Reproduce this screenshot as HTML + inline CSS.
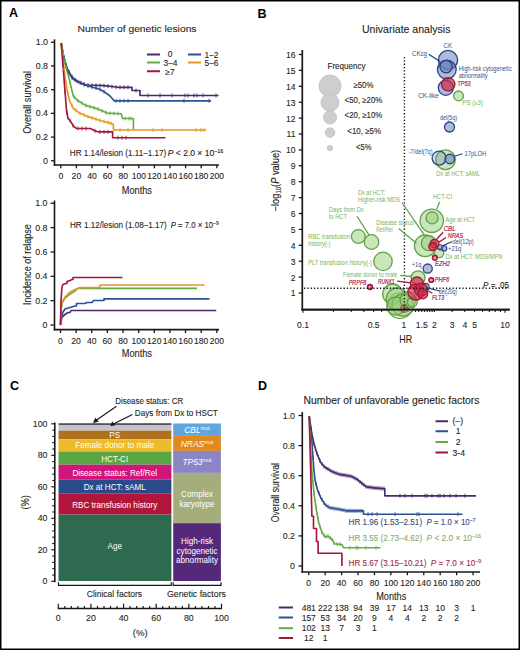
<!DOCTYPE html>
<html><head><meta charset="utf-8"><style>
html,body{margin:0;padding:0;background:#fff;}
svg{display:block;}
svg text{font-family:"Liberation Sans", sans-serif;}
</style></head><body>
<svg width="520" height="650" viewBox="0 0 520 650">
<rect x="0" y="0" width="520" height="650" fill="#fff"/>
<text x="9.00" y="17.30" font-size="12.5" fill="#000" font-weight="bold" >A</text>
<text x="77.50" y="32.20" font-size="9.9" fill="#231f20" stroke="#231f20" stroke-width="0.1" textLength="119.00" lengthAdjust="spacingAndGlyphs" >Number of genetic lesions</text>
<line x1="54.50" y1="39.30" x2="54.50" y2="165.80" stroke="#1a1718" stroke-width="1.6" />
<line x1="53.70" y1="165.00" x2="219.00" y2="165.00" stroke="#1a1718" stroke-width="1.6" />
<line x1="51.00" y1="160.80" x2="54.50" y2="160.80" stroke="#1a1718" stroke-width="1.3" />
<text x="48.00" y="163.90" font-size="8.8" fill="#231f20" stroke="#231f20" stroke-width="0.1" text-anchor="end" >0</text>
<line x1="51.00" y1="137.08" x2="54.50" y2="137.08" stroke="#1a1718" stroke-width="1.3" />
<text x="48.00" y="140.18" font-size="8.8" fill="#231f20" stroke="#231f20" stroke-width="0.1" text-anchor="end" >0.2</text>
<line x1="51.00" y1="113.36" x2="54.50" y2="113.36" stroke="#1a1718" stroke-width="1.3" />
<text x="48.00" y="116.46" font-size="8.8" fill="#231f20" stroke="#231f20" stroke-width="0.1" text-anchor="end" >0.4</text>
<line x1="51.00" y1="89.64" x2="54.50" y2="89.64" stroke="#1a1718" stroke-width="1.3" />
<text x="48.00" y="92.74" font-size="8.8" fill="#231f20" stroke="#231f20" stroke-width="0.1" text-anchor="end" >0.6</text>
<line x1="51.00" y1="65.92" x2="54.50" y2="65.92" stroke="#1a1718" stroke-width="1.3" />
<text x="48.00" y="69.02" font-size="8.8" fill="#231f20" stroke="#231f20" stroke-width="0.1" text-anchor="end" >0.8</text>
<line x1="51.00" y1="42.20" x2="54.50" y2="42.20" stroke="#1a1718" stroke-width="1.3" />
<text x="48.00" y="45.30" font-size="8.8" fill="#231f20" stroke="#231f20" stroke-width="0.1" text-anchor="end" >1.0</text>
<line x1="60.80" y1="165.00" x2="60.80" y2="168.30" stroke="#1a1718" stroke-width="1.3" />
<text x="60.80" y="178.80" font-size="8.6" fill="#231f20" stroke="#231f20" stroke-width="0.1" text-anchor="middle" >0</text>
<line x1="76.40" y1="165.00" x2="76.40" y2="168.30" stroke="#1a1718" stroke-width="1.3" />
<text x="76.40" y="178.80" font-size="8.6" fill="#231f20" stroke="#231f20" stroke-width="0.1" text-anchor="middle" >20</text>
<line x1="92.00" y1="165.00" x2="92.00" y2="168.30" stroke="#1a1718" stroke-width="1.3" />
<text x="92.00" y="178.80" font-size="8.6" fill="#231f20" stroke="#231f20" stroke-width="0.1" text-anchor="middle" >40</text>
<line x1="107.60" y1="165.00" x2="107.60" y2="168.30" stroke="#1a1718" stroke-width="1.3" />
<text x="107.60" y="178.80" font-size="8.6" fill="#231f20" stroke="#231f20" stroke-width="0.1" text-anchor="middle" >60</text>
<line x1="123.20" y1="165.00" x2="123.20" y2="168.30" stroke="#1a1718" stroke-width="1.3" />
<text x="123.20" y="178.80" font-size="8.6" fill="#231f20" stroke="#231f20" stroke-width="0.1" text-anchor="middle" >80</text>
<line x1="138.80" y1="165.00" x2="138.80" y2="168.30" stroke="#1a1718" stroke-width="1.3" />
<text x="138.80" y="178.80" font-size="8.6" fill="#231f20" stroke="#231f20" stroke-width="0.1" text-anchor="middle" >100</text>
<line x1="154.40" y1="165.00" x2="154.40" y2="168.30" stroke="#1a1718" stroke-width="1.3" />
<text x="154.40" y="178.80" font-size="8.6" fill="#231f20" stroke="#231f20" stroke-width="0.1" text-anchor="middle" >120</text>
<line x1="170.00" y1="165.00" x2="170.00" y2="168.30" stroke="#1a1718" stroke-width="1.3" />
<text x="170.00" y="178.80" font-size="8.6" fill="#231f20" stroke="#231f20" stroke-width="0.1" text-anchor="middle" >140</text>
<line x1="185.60" y1="165.00" x2="185.60" y2="168.30" stroke="#1a1718" stroke-width="1.3" />
<text x="185.60" y="178.80" font-size="8.6" fill="#231f20" stroke="#231f20" stroke-width="0.1" text-anchor="middle" >160</text>
<line x1="201.20" y1="165.00" x2="201.20" y2="168.30" stroke="#1a1718" stroke-width="1.3" />
<text x="201.20" y="178.80" font-size="8.6" fill="#231f20" stroke="#231f20" stroke-width="0.1" text-anchor="middle" >180</text>
<line x1="216.80" y1="165.00" x2="216.80" y2="168.30" stroke="#1a1718" stroke-width="1.3" />
<text x="216.80" y="178.80" font-size="8.6" fill="#231f20" stroke="#231f20" stroke-width="0.1" text-anchor="middle" >200</text>
<text x="121.70" y="193.50" font-size="10" fill="#231f20" stroke="#231f20" stroke-width="0.1" textLength="30.30" lengthAdjust="spacingAndGlyphs" >Months</text>
<text x="31.00" y="102.40" font-size="10.6" fill="#231f20" stroke="#231f20" stroke-width="0.1" text-anchor="middle" textLength="62.80" lengthAdjust="spacingAndGlyphs" transform="rotate(-90 31.00 102.40)" >Overall survival</text>
<text x="69.80" y="156.30" font-size="8.7" fill="#231f20" stroke="#231f20" stroke-width="0.1" textLength="96.40" lengthAdjust="spacingAndGlyphs" >HR 1.14/lesion (1.11–1.17)</text>
<text x="167.8" y="156.3" font-size="8.6" fill="#1a1718" stroke="#1a1718" stroke-width="0.1" textLength="55.6" lengthAdjust="spacingAndGlyphs"><tspan font-style="italic">P</tspan> &lt; 2.0 × 10<tspan font-size="5.5" dy="-3.5">−16</tspan></text>
<line x1="147.00" y1="54.50" x2="160.00" y2="54.50" stroke="#4a2a6c" stroke-width="2" />
<text x="170.00" y="56.90" font-size="8.4" fill="#231f20" stroke="#231f20" stroke-width="0.1" text-anchor="middle" >0</text>
<line x1="188.00" y1="54.50" x2="201.00" y2="54.50" stroke="#2c5190" stroke-width="2" />
<text x="204.50" y="57.50" font-size="8.4" fill="#231f20" stroke="#231f20" stroke-width="0.1" >1–2</text>
<line x1="147.00" y1="62.50" x2="160.00" y2="62.50" stroke="#67ab45" stroke-width="2" />
<text x="163.50" y="65.50" font-size="8.4" fill="#231f20" stroke="#231f20" stroke-width="0.1" >3–4</text>
<line x1="188.00" y1="62.50" x2="201.00" y2="62.50" stroke="#e49a25" stroke-width="2" />
<text x="204.50" y="65.50" font-size="8.4" fill="#231f20" stroke="#231f20" stroke-width="0.1" >5–6</text>
<line x1="147.00" y1="71.25" x2="160.00" y2="71.25" stroke="#a5163d" stroke-width="2" />
<text x="170.00" y="74.85" font-size="8.4" fill="#231f20" stroke="#231f20" stroke-width="0.1" text-anchor="middle" >≥7</text>
<polyline points="61.20,43.00 63.00,53.00 65.00,62.00 67.20,68.80 71.30,75.80 74.00,79.00 77.60,81.50 82.00,83.50 86.80,85.00 104.00,85.60 118.00,87.30 132.00,87.30 132.00,90.50 140.00,90.50 140.00,95.50 218.50,95.50" fill="none" stroke="#4a2a6c" stroke-width="1.65" stroke-linejoin="round" />
<polyline points="61.20,43.00 63.00,54.00 65.00,62.00 67.20,69.00 70.00,75.00 73.00,79.00 77.60,81.50 85.00,85.00 92.60,87.30 98.00,88.60 101.00,90.00 105.00,92.30 110.00,96.00 114.20,100.80 211.00,100.80" fill="none" stroke="#2c5190" stroke-width="1.65" stroke-linejoin="round" />
<polyline points="61.20,43.00 64.90,63.00 69.50,80.40 71.80,90.00 73.40,96.20 78.00,100.80 85.70,105.40 96.50,108.50 107.20,113.10 121.10,113.80 122.60,118.50 133.40,118.50 133.40,129.50" fill="none" stroke="#67ab45" stroke-width="1.65" stroke-linejoin="round" />
<polyline points="61.20,43.00 63.50,65.00 65.50,80.00 67.20,90.00 69.50,100.80 73.40,108.50 79.50,113.10 88.80,116.90 101.00,120.80 110.30,123.10 113.40,124.60 113.40,130.00 206.50,130.00" fill="none" stroke="#e49a25" stroke-width="1.65" stroke-linejoin="round" />
<polyline points="61.20,43.00 63.50,72.00 64.90,90.00 66.50,110.00 68.00,118.50 70.30,120.80 73.40,126.20 76.50,128.50 90.30,128.50 94.90,130.80 98.00,131.80 112.60,131.80 112.60,137.70 165.50,137.70" fill="none" stroke="#a5163d" stroke-width="1.65" stroke-linejoin="round" />
<line x1="66.00" y1="63.09" x2="66.00" y2="67.09" stroke="#4a2a6c" stroke-width="0.9" />
<line x1="69.00" y1="69.87" x2="69.00" y2="73.87" stroke="#4a2a6c" stroke-width="0.9" />
<line x1="72.00" y1="74.63" x2="72.00" y2="78.63" stroke="#4a2a6c" stroke-width="0.9" />
<line x1="75.00" y1="77.69" x2="75.00" y2="81.69" stroke="#4a2a6c" stroke-width="0.9" />
<line x1="78.00" y1="79.68" x2="78.00" y2="83.68" stroke="#4a2a6c" stroke-width="0.9" />
<line x1="81.00" y1="81.05" x2="81.00" y2="85.05" stroke="#4a2a6c" stroke-width="0.9" />
<line x1="84.00" y1="82.12" x2="84.00" y2="86.12" stroke="#4a2a6c" stroke-width="0.9" />
<line x1="88.00" y1="83.04" x2="88.00" y2="87.04" stroke="#4a2a6c" stroke-width="0.9" />
<line x1="92.00" y1="83.18" x2="92.00" y2="87.18" stroke="#4a2a6c" stroke-width="0.9" />
<line x1="96.00" y1="83.32" x2="96.00" y2="87.32" stroke="#4a2a6c" stroke-width="0.9" />
<line x1="100.00" y1="83.46" x2="100.00" y2="87.46" stroke="#4a2a6c" stroke-width="0.9" />
<line x1="104.00" y1="83.60" x2="104.00" y2="87.60" stroke="#4a2a6c" stroke-width="0.9" />
<line x1="108.00" y1="84.09" x2="108.00" y2="88.09" stroke="#4a2a6c" stroke-width="0.9" />
<line x1="112.00" y1="84.57" x2="112.00" y2="88.57" stroke="#4a2a6c" stroke-width="0.9" />
<line x1="116.00" y1="85.06" x2="116.00" y2="89.06" stroke="#4a2a6c" stroke-width="0.9" />
<line x1="120.00" y1="85.30" x2="120.00" y2="89.30" stroke="#4a2a6c" stroke-width="0.9" />
<line x1="124.00" y1="85.30" x2="124.00" y2="89.30" stroke="#4a2a6c" stroke-width="0.9" />
<line x1="128.00" y1="85.30" x2="128.00" y2="89.30" stroke="#4a2a6c" stroke-width="0.9" />
<line x1="136.00" y1="88.50" x2="136.00" y2="92.50" stroke="#4a2a6c" stroke-width="0.9" />
<line x1="148.00" y1="93.50" x2="148.00" y2="97.50" stroke="#4a2a6c" stroke-width="0.9" />
<line x1="160.00" y1="93.50" x2="160.00" y2="97.50" stroke="#4a2a6c" stroke-width="0.9" />
<line x1="172.00" y1="93.50" x2="172.00" y2="97.50" stroke="#4a2a6c" stroke-width="0.9" />
<line x1="185.00" y1="93.50" x2="185.00" y2="97.50" stroke="#4a2a6c" stroke-width="0.9" />
<line x1="188.00" y1="93.50" x2="188.00" y2="97.50" stroke="#4a2a6c" stroke-width="0.9" />
<line x1="194.00" y1="93.50" x2="194.00" y2="97.50" stroke="#4a2a6c" stroke-width="0.9" />
<line x1="197.00" y1="93.50" x2="197.00" y2="97.50" stroke="#4a2a6c" stroke-width="0.9" />
<line x1="203.00" y1="93.50" x2="203.00" y2="97.50" stroke="#4a2a6c" stroke-width="0.9" />
<line x1="216.00" y1="93.50" x2="216.00" y2="97.50" stroke="#4a2a6c" stroke-width="0.9" />
<line x1="64.00" y1="56.00" x2="64.00" y2="60.00" stroke="#2c5190" stroke-width="0.9" />
<line x1="68.00" y1="68.71" x2="68.00" y2="72.71" stroke="#2c5190" stroke-width="0.9" />
<line x1="72.00" y1="75.67" x2="72.00" y2="79.67" stroke="#2c5190" stroke-width="0.9" />
<line x1="76.00" y1="78.63" x2="76.00" y2="82.63" stroke="#2c5190" stroke-width="0.9" />
<line x1="80.00" y1="80.64" x2="80.00" y2="84.64" stroke="#2c5190" stroke-width="0.9" />
<line x1="84.00" y1="82.53" x2="84.00" y2="86.53" stroke="#2c5190" stroke-width="0.9" />
<line x1="88.00" y1="83.91" x2="88.00" y2="87.91" stroke="#2c5190" stroke-width="0.9" />
<line x1="92.00" y1="85.12" x2="92.00" y2="89.12" stroke="#2c5190" stroke-width="0.9" />
<line x1="96.00" y1="86.12" x2="96.00" y2="90.12" stroke="#2c5190" stroke-width="0.9" />
<line x1="100.00" y1="87.53" x2="100.00" y2="91.53" stroke="#2c5190" stroke-width="0.9" />
<line x1="104.00" y1="89.72" x2="104.00" y2="93.72" stroke="#2c5190" stroke-width="0.9" />
<line x1="116.00" y1="98.80" x2="116.00" y2="102.80" stroke="#2c5190" stroke-width="0.9" />
<line x1="120.00" y1="98.80" x2="120.00" y2="102.80" stroke="#2c5190" stroke-width="0.9" />
<line x1="124.00" y1="98.80" x2="124.00" y2="102.80" stroke="#2c5190" stroke-width="0.9" />
<line x1="128.00" y1="98.80" x2="128.00" y2="102.80" stroke="#2c5190" stroke-width="0.9" />
<line x1="184.00" y1="98.80" x2="184.00" y2="102.80" stroke="#2c5190" stroke-width="0.9" />
<line x1="209.00" y1="98.80" x2="209.00" y2="102.80" stroke="#2c5190" stroke-width="0.9" />
<line x1="63.00" y1="50.73" x2="63.00" y2="54.73" stroke="#67ab45" stroke-width="0.9" />
<line x1="66.00" y1="65.16" x2="66.00" y2="69.16" stroke="#67ab45" stroke-width="0.9" />
<line x1="70.00" y1="80.49" x2="70.00" y2="84.49" stroke="#67ab45" stroke-width="0.9" />
<line x1="74.00" y1="94.80" x2="74.00" y2="98.80" stroke="#67ab45" stroke-width="0.9" />
<line x1="78.00" y1="98.80" x2="78.00" y2="102.80" stroke="#67ab45" stroke-width="0.9" />
<line x1="82.00" y1="101.19" x2="82.00" y2="105.19" stroke="#67ab45" stroke-width="0.9" />
<line x1="86.00" y1="103.49" x2="86.00" y2="107.49" stroke="#67ab45" stroke-width="0.9" />
<line x1="90.00" y1="104.63" x2="90.00" y2="108.63" stroke="#67ab45" stroke-width="0.9" />
<line x1="94.00" y1="105.78" x2="94.00" y2="109.78" stroke="#67ab45" stroke-width="0.9" />
<line x1="98.00" y1="107.14" x2="98.00" y2="111.14" stroke="#67ab45" stroke-width="0.9" />
<line x1="102.00" y1="108.86" x2="102.00" y2="112.86" stroke="#67ab45" stroke-width="0.9" />
<line x1="106.00" y1="110.58" x2="106.00" y2="114.58" stroke="#67ab45" stroke-width="0.9" />
<line x1="110.00" y1="111.24" x2="110.00" y2="115.24" stroke="#67ab45" stroke-width="0.9" />
<line x1="114.00" y1="111.44" x2="114.00" y2="115.44" stroke="#67ab45" stroke-width="0.9" />
<line x1="118.00" y1="111.64" x2="118.00" y2="115.64" stroke="#67ab45" stroke-width="0.9" />
<line x1="125.00" y1="116.50" x2="125.00" y2="120.50" stroke="#67ab45" stroke-width="0.9" />
<line x1="129.00" y1="116.50" x2="129.00" y2="120.50" stroke="#67ab45" stroke-width="0.9" />
<line x1="131.00" y1="116.50" x2="131.00" y2="120.50" stroke="#67ab45" stroke-width="0.9" />
<line x1="64.00" y1="66.75" x2="64.00" y2="70.75" stroke="#e49a25" stroke-width="0.9" />
<line x1="68.00" y1="91.76" x2="68.00" y2="95.76" stroke="#e49a25" stroke-width="0.9" />
<line x1="72.00" y1="103.74" x2="72.00" y2="107.74" stroke="#e49a25" stroke-width="0.9" />
<line x1="76.00" y1="108.46" x2="76.00" y2="112.46" stroke="#e49a25" stroke-width="0.9" />
<line x1="80.00" y1="111.30" x2="80.00" y2="115.30" stroke="#e49a25" stroke-width="0.9" />
<line x1="84.00" y1="112.94" x2="84.00" y2="116.94" stroke="#e49a25" stroke-width="0.9" />
<line x1="88.00" y1="114.57" x2="88.00" y2="118.57" stroke="#e49a25" stroke-width="0.9" />
<line x1="92.00" y1="115.92" x2="92.00" y2="119.92" stroke="#e49a25" stroke-width="0.9" />
<line x1="96.00" y1="117.20" x2="96.00" y2="121.20" stroke="#e49a25" stroke-width="0.9" />
<line x1="100.00" y1="118.48" x2="100.00" y2="122.48" stroke="#e49a25" stroke-width="0.9" />
<line x1="104.00" y1="119.54" x2="104.00" y2="123.54" stroke="#e49a25" stroke-width="0.9" />
<line x1="108.00" y1="120.53" x2="108.00" y2="124.53" stroke="#e49a25" stroke-width="0.9" />
<line x1="111.00" y1="121.44" x2="111.00" y2="125.44" stroke="#e49a25" stroke-width="0.9" />
<line x1="120.00" y1="128.00" x2="120.00" y2="132.00" stroke="#e49a25" stroke-width="0.9" />
<line x1="128.00" y1="128.00" x2="128.00" y2="132.00" stroke="#e49a25" stroke-width="0.9" />
<line x1="153.00" y1="128.00" x2="153.00" y2="132.00" stroke="#e49a25" stroke-width="0.9" />
<line x1="162.00" y1="128.00" x2="162.00" y2="132.00" stroke="#e49a25" stroke-width="0.9" />
<line x1="196.00" y1="128.00" x2="196.00" y2="132.00" stroke="#e49a25" stroke-width="0.9" />
<line x1="201.00" y1="128.00" x2="201.00" y2="132.00" stroke="#e49a25" stroke-width="0.9" />
<line x1="204.00" y1="128.00" x2="204.00" y2="132.00" stroke="#e49a25" stroke-width="0.9" />
<line x1="63.00" y1="63.70" x2="63.00" y2="67.70" stroke="#a5163d" stroke-width="0.9" />
<line x1="65.00" y1="89.25" x2="65.00" y2="93.25" stroke="#a5163d" stroke-width="0.9" />
<line x1="67.00" y1="110.83" x2="67.00" y2="114.83" stroke="#a5163d" stroke-width="0.9" />
<line x1="70.00" y1="118.50" x2="70.00" y2="122.50" stroke="#a5163d" stroke-width="0.9" />
<line x1="73.00" y1="123.50" x2="73.00" y2="127.50" stroke="#a5163d" stroke-width="0.9" />
<line x1="78.00" y1="126.50" x2="78.00" y2="130.50" stroke="#a5163d" stroke-width="0.9" />
<line x1="82.00" y1="126.50" x2="82.00" y2="130.50" stroke="#a5163d" stroke-width="0.9" />
<line x1="86.00" y1="126.50" x2="86.00" y2="130.50" stroke="#a5163d" stroke-width="0.9" />
<line x1="95.00" y1="128.83" x2="95.00" y2="132.83" stroke="#a5163d" stroke-width="0.9" />
<line x1="100.00" y1="129.80" x2="100.00" y2="133.80" stroke="#a5163d" stroke-width="0.9" />
<line x1="104.00" y1="129.80" x2="104.00" y2="133.80" stroke="#a5163d" stroke-width="0.9" />
<line x1="108.00" y1="129.80" x2="108.00" y2="133.80" stroke="#a5163d" stroke-width="0.9" />
<line x1="118.00" y1="135.70" x2="118.00" y2="139.70" stroke="#a5163d" stroke-width="0.9" />
<line x1="122.00" y1="135.70" x2="122.00" y2="139.70" stroke="#a5163d" stroke-width="0.9" />
<line x1="126.00" y1="135.70" x2="126.00" y2="139.70" stroke="#a5163d" stroke-width="0.9" />
<line x1="54.50" y1="200.50" x2="54.50" y2="330.40" stroke="#1a1718" stroke-width="1.6" />
<line x1="53.70" y1="329.60" x2="219.00" y2="329.60" stroke="#1a1718" stroke-width="1.6" />
<line x1="50.50" y1="325.00" x2="54.50" y2="325.00" stroke="#1a1718" stroke-width="1.3" />
<text x="47.50" y="328.10" font-size="8.8" fill="#231f20" stroke="#231f20" stroke-width="0.1" text-anchor="end" >0</text>
<line x1="50.50" y1="300.65" x2="54.50" y2="300.65" stroke="#1a1718" stroke-width="1.3" />
<text x="47.50" y="303.75" font-size="8.8" fill="#231f20" stroke="#231f20" stroke-width="0.1" text-anchor="end" >0.2</text>
<line x1="50.50" y1="276.30" x2="54.50" y2="276.30" stroke="#1a1718" stroke-width="1.3" />
<text x="47.50" y="279.40" font-size="8.8" fill="#231f20" stroke="#231f20" stroke-width="0.1" text-anchor="end" >0.4</text>
<line x1="50.50" y1="251.95" x2="54.50" y2="251.95" stroke="#1a1718" stroke-width="1.3" />
<text x="47.50" y="255.05" font-size="8.8" fill="#231f20" stroke="#231f20" stroke-width="0.1" text-anchor="end" >0.6</text>
<line x1="50.50" y1="227.60" x2="54.50" y2="227.60" stroke="#1a1718" stroke-width="1.3" />
<text x="47.50" y="230.70" font-size="8.8" fill="#231f20" stroke="#231f20" stroke-width="0.1" text-anchor="end" >0.8</text>
<line x1="50.50" y1="203.25" x2="54.50" y2="203.25" stroke="#1a1718" stroke-width="1.3" />
<text x="47.50" y="206.35" font-size="8.8" fill="#231f20" stroke="#231f20" stroke-width="0.1" text-anchor="end" >1.0</text>
<line x1="60.50" y1="329.60" x2="60.50" y2="333.00" stroke="#1a1718" stroke-width="1.3" />
<text x="60.50" y="343.60" font-size="8.6" fill="#231f20" stroke="#231f20" stroke-width="0.1" text-anchor="middle" >0</text>
<line x1="76.13" y1="329.60" x2="76.13" y2="333.00" stroke="#1a1718" stroke-width="1.3" />
<text x="76.13" y="343.60" font-size="8.6" fill="#231f20" stroke="#231f20" stroke-width="0.1" text-anchor="middle" >20</text>
<line x1="91.76" y1="329.60" x2="91.76" y2="333.00" stroke="#1a1718" stroke-width="1.3" />
<text x="91.76" y="343.60" font-size="8.6" fill="#231f20" stroke="#231f20" stroke-width="0.1" text-anchor="middle" >40</text>
<line x1="107.39" y1="329.60" x2="107.39" y2="333.00" stroke="#1a1718" stroke-width="1.3" />
<text x="107.39" y="343.60" font-size="8.6" fill="#231f20" stroke="#231f20" stroke-width="0.1" text-anchor="middle" >60</text>
<line x1="123.02" y1="329.60" x2="123.02" y2="333.00" stroke="#1a1718" stroke-width="1.3" />
<text x="123.02" y="343.60" font-size="8.6" fill="#231f20" stroke="#231f20" stroke-width="0.1" text-anchor="middle" >80</text>
<line x1="138.65" y1="329.60" x2="138.65" y2="333.00" stroke="#1a1718" stroke-width="1.3" />
<text x="138.65" y="343.60" font-size="8.6" fill="#231f20" stroke="#231f20" stroke-width="0.1" text-anchor="middle" >100</text>
<line x1="154.28" y1="329.60" x2="154.28" y2="333.00" stroke="#1a1718" stroke-width="1.3" />
<text x="154.28" y="343.60" font-size="8.6" fill="#231f20" stroke="#231f20" stroke-width="0.1" text-anchor="middle" >120</text>
<line x1="169.91" y1="329.60" x2="169.91" y2="333.00" stroke="#1a1718" stroke-width="1.3" />
<text x="169.91" y="343.60" font-size="8.6" fill="#231f20" stroke="#231f20" stroke-width="0.1" text-anchor="middle" >140</text>
<line x1="185.54" y1="329.60" x2="185.54" y2="333.00" stroke="#1a1718" stroke-width="1.3" />
<text x="185.54" y="343.60" font-size="8.6" fill="#231f20" stroke="#231f20" stroke-width="0.1" text-anchor="middle" >160</text>
<line x1="201.17" y1="329.60" x2="201.17" y2="333.00" stroke="#1a1718" stroke-width="1.3" />
<text x="201.17" y="343.60" font-size="8.6" fill="#231f20" stroke="#231f20" stroke-width="0.1" text-anchor="middle" >180</text>
<line x1="216.80" y1="329.60" x2="216.80" y2="333.00" stroke="#1a1718" stroke-width="1.3" />
<text x="216.80" y="343.60" font-size="8.6" fill="#231f20" stroke="#231f20" stroke-width="0.1" text-anchor="middle" >200</text>
<text x="121.70" y="357.30" font-size="10" fill="#231f20" stroke="#231f20" stroke-width="0.1" textLength="30.30" lengthAdjust="spacingAndGlyphs" >Months</text>
<text x="31.20" y="264.60" font-size="10.6" fill="#231f20" stroke="#231f20" stroke-width="0.1" text-anchor="middle" textLength="80.80" lengthAdjust="spacingAndGlyphs" transform="rotate(-90 31.20 264.60)" >Incidence of relapse</text>
<text x="70.00" y="228.20" font-size="8.7" fill="#231f20" stroke="#231f20" stroke-width="0.1" textLength="96.80" lengthAdjust="spacingAndGlyphs" >HR 1.12/lesion (1.08–1.17)</text>
<text x="170.75" y="228.2" font-size="8.6" fill="#1a1718" stroke="#1a1718" stroke-width="0.1" textLength="48" lengthAdjust="spacingAndGlyphs"><tspan font-style="italic">P</tspan> = 7.0 × 10<tspan font-size="5.5" dy="-3.5">−9</tspan></text>
<polyline points="60.50,325.00 62.00,317.00 65.00,314.50 68.00,312.50 70.00,312.50 71.00,310.50 216.30,310.50" fill="none" stroke="#4a2a6c" stroke-width="1.65" stroke-linejoin="round" />
<polyline points="60.50,325.00 61.00,318.00 63.00,312.00 65.00,309.00 70.00,307.50 75.00,306.00 76.50,306.00 76.50,303.50 85.00,303.50 87.00,302.50 92.00,302.50 93.50,300.50 104.00,300.50 104.00,298.80 209.50,298.80" fill="none" stroke="#2c5190" stroke-width="1.65" stroke-linejoin="round" />
<polyline points="60.50,325.00 61.00,310.00 62.00,303.00 65.00,298.00 70.00,294.00 75.00,291.00 78.00,288.30 197.00,288.30" fill="none" stroke="#67ab45" stroke-width="1.65" stroke-linejoin="round" />
<polyline points="60.50,325.00 61.00,310.00 62.00,302.50 65.00,297.00 70.00,292.00 75.00,289.50 80.00,287.50 100.00,287.50 100.00,285.00 204.50,285.00" fill="none" stroke="#e49a25" stroke-width="1.65" stroke-linejoin="round" />
<polyline points="60.50,325.00 61.00,300.00 62.00,287.00 63.00,284.50 66.00,283.50 67.00,283.50 67.00,281.50 70.00,280.50 72.00,279.50 73.00,279.50 73.00,277.50 122.50,277.50" fill="none" stroke="#a5163d" stroke-width="1.65" stroke-linejoin="round" />
<text x="257.50" y="17.50" font-size="12.5" fill="#000" font-weight="bold" >B</text>
<text x="362.00" y="32.60" font-size="10.1" fill="#231f20" stroke="#231f20" stroke-width="0.1" textLength="88.40" lengthAdjust="spacingAndGlyphs" >Univariate analysis</text>
<line x1="302.30" y1="50.00" x2="302.30" y2="310.60" stroke="#1a1718" stroke-width="1.7" />
<line x1="301.50" y1="309.60" x2="509.70" y2="309.60" stroke="#1a1718" stroke-width="1.7" />
<line x1="298.80" y1="293.00" x2="302.30" y2="293.00" stroke="#1a1718" stroke-width="1.3" />
<text x="295.50" y="296.40" font-size="9.8" fill="#231f20" stroke="#231f20" stroke-width="0.1" text-anchor="end" textLength="4.78" lengthAdjust="spacingAndGlyphs" >1</text>
<line x1="298.80" y1="277.10" x2="302.30" y2="277.10" stroke="#1a1718" stroke-width="1.3" />
<text x="295.50" y="280.50" font-size="9.8" fill="#231f20" stroke="#231f20" stroke-width="0.1" text-anchor="end" textLength="4.78" lengthAdjust="spacingAndGlyphs" >2</text>
<line x1="298.80" y1="261.20" x2="302.30" y2="261.20" stroke="#1a1718" stroke-width="1.3" />
<text x="295.50" y="264.60" font-size="9.8" fill="#231f20" stroke="#231f20" stroke-width="0.1" text-anchor="end" textLength="4.78" lengthAdjust="spacingAndGlyphs" >3</text>
<line x1="298.80" y1="245.30" x2="302.30" y2="245.30" stroke="#1a1718" stroke-width="1.3" />
<text x="295.50" y="248.70" font-size="9.8" fill="#231f20" stroke="#231f20" stroke-width="0.1" text-anchor="end" textLength="4.78" lengthAdjust="spacingAndGlyphs" >4</text>
<line x1="298.80" y1="229.40" x2="302.30" y2="229.40" stroke="#1a1718" stroke-width="1.3" />
<text x="295.50" y="232.80" font-size="9.8" fill="#231f20" stroke="#231f20" stroke-width="0.1" text-anchor="end" textLength="4.78" lengthAdjust="spacingAndGlyphs" >5</text>
<line x1="298.80" y1="213.50" x2="302.30" y2="213.50" stroke="#1a1718" stroke-width="1.3" />
<text x="295.50" y="216.90" font-size="9.8" fill="#231f20" stroke="#231f20" stroke-width="0.1" text-anchor="end" textLength="4.78" lengthAdjust="spacingAndGlyphs" >6</text>
<line x1="298.80" y1="197.60" x2="302.30" y2="197.60" stroke="#1a1718" stroke-width="1.3" />
<text x="295.50" y="201.00" font-size="9.8" fill="#231f20" stroke="#231f20" stroke-width="0.1" text-anchor="end" textLength="4.78" lengthAdjust="spacingAndGlyphs" >7</text>
<line x1="298.80" y1="181.70" x2="302.30" y2="181.70" stroke="#1a1718" stroke-width="1.3" />
<text x="295.50" y="185.10" font-size="9.8" fill="#231f20" stroke="#231f20" stroke-width="0.1" text-anchor="end" textLength="4.78" lengthAdjust="spacingAndGlyphs" >8</text>
<line x1="298.80" y1="165.80" x2="302.30" y2="165.80" stroke="#1a1718" stroke-width="1.3" />
<text x="295.50" y="169.20" font-size="9.8" fill="#231f20" stroke="#231f20" stroke-width="0.1" text-anchor="end" textLength="4.78" lengthAdjust="spacingAndGlyphs" >9</text>
<line x1="298.80" y1="149.90" x2="302.30" y2="149.90" stroke="#1a1718" stroke-width="1.3" />
<text x="295.50" y="153.30" font-size="9.8" fill="#231f20" stroke="#231f20" stroke-width="0.1" text-anchor="end" textLength="9.56" lengthAdjust="spacingAndGlyphs" >10</text>
<line x1="298.80" y1="134.00" x2="302.30" y2="134.00" stroke="#1a1718" stroke-width="1.3" />
<text x="295.50" y="137.40" font-size="9.8" fill="#231f20" stroke="#231f20" stroke-width="0.1" text-anchor="end" textLength="8.93" lengthAdjust="spacingAndGlyphs" >11</text>
<line x1="298.80" y1="118.10" x2="302.30" y2="118.10" stroke="#1a1718" stroke-width="1.3" />
<text x="295.50" y="121.50" font-size="9.8" fill="#231f20" stroke="#231f20" stroke-width="0.1" text-anchor="end" textLength="9.56" lengthAdjust="spacingAndGlyphs" >12</text>
<line x1="298.80" y1="102.20" x2="302.30" y2="102.20" stroke="#1a1718" stroke-width="1.3" />
<text x="295.50" y="105.60" font-size="9.8" fill="#231f20" stroke="#231f20" stroke-width="0.1" text-anchor="end" textLength="9.56" lengthAdjust="spacingAndGlyphs" >13</text>
<line x1="298.80" y1="86.30" x2="302.30" y2="86.30" stroke="#1a1718" stroke-width="1.3" />
<text x="295.50" y="89.70" font-size="9.8" fill="#231f20" stroke="#231f20" stroke-width="0.1" text-anchor="end" textLength="9.56" lengthAdjust="spacingAndGlyphs" >14</text>
<line x1="298.80" y1="70.40" x2="302.30" y2="70.40" stroke="#1a1718" stroke-width="1.3" />
<text x="295.50" y="73.80" font-size="9.8" fill="#231f20" stroke="#231f20" stroke-width="0.1" text-anchor="end" textLength="9.56" lengthAdjust="spacingAndGlyphs" >15</text>
<line x1="298.80" y1="54.50" x2="302.30" y2="54.50" stroke="#1a1718" stroke-width="1.3" />
<text x="295.50" y="57.90" font-size="9.8" fill="#231f20" stroke="#231f20" stroke-width="0.1" text-anchor="end" textLength="9.56" lengthAdjust="spacingAndGlyphs" >16</text>
<line x1="303.00" y1="309.60" x2="303.00" y2="312.80" stroke="#1a1718" stroke-width="1.1" />
<line x1="333.40" y1="309.60" x2="333.40" y2="312.00" stroke="#1a1718" stroke-width="1.1" />
<line x1="351.19" y1="309.60" x2="351.19" y2="312.00" stroke="#1a1718" stroke-width="1.1" />
<line x1="363.81" y1="309.60" x2="363.81" y2="312.00" stroke="#1a1718" stroke-width="1.1" />
<line x1="373.60" y1="309.60" x2="373.60" y2="312.00" stroke="#1a1718" stroke-width="1.1" />
<line x1="381.59" y1="309.60" x2="381.59" y2="312.00" stroke="#1a1718" stroke-width="1.1" />
<line x1="388.35" y1="309.60" x2="388.35" y2="312.00" stroke="#1a1718" stroke-width="1.1" />
<line x1="394.21" y1="309.60" x2="394.21" y2="312.00" stroke="#1a1718" stroke-width="1.1" />
<line x1="399.38" y1="309.60" x2="399.38" y2="312.00" stroke="#1a1718" stroke-width="1.1" />
<line x1="404.00" y1="309.60" x2="404.00" y2="312.80" stroke="#1a1718" stroke-width="1.1" />
<line x1="408.18" y1="309.60" x2="408.18" y2="312.00" stroke="#1a1718" stroke-width="1.1" />
<line x1="412.00" y1="309.60" x2="412.00" y2="312.00" stroke="#1a1718" stroke-width="1.1" />
<line x1="415.51" y1="309.60" x2="415.51" y2="312.00" stroke="#1a1718" stroke-width="1.1" />
<line x1="418.76" y1="309.60" x2="418.76" y2="312.00" stroke="#1a1718" stroke-width="1.1" />
<line x1="421.79" y1="309.60" x2="421.79" y2="312.00" stroke="#1a1718" stroke-width="1.1" />
<line x1="424.62" y1="309.60" x2="424.62" y2="312.00" stroke="#1a1718" stroke-width="1.1" />
<line x1="427.28" y1="309.60" x2="427.28" y2="312.00" stroke="#1a1718" stroke-width="1.1" />
<line x1="429.78" y1="309.60" x2="429.78" y2="312.00" stroke="#1a1718" stroke-width="1.1" />
<line x1="432.15" y1="309.60" x2="432.15" y2="312.00" stroke="#1a1718" stroke-width="1.1" />
<line x1="434.40" y1="309.60" x2="434.40" y2="312.00" stroke="#1a1718" stroke-width="1.1" />
<line x1="452.19" y1="309.60" x2="452.19" y2="312.00" stroke="#1a1718" stroke-width="1.1" />
<line x1="464.81" y1="309.60" x2="464.81" y2="312.00" stroke="#1a1718" stroke-width="1.1" />
<line x1="474.60" y1="309.60" x2="474.60" y2="312.00" stroke="#1a1718" stroke-width="1.1" />
<line x1="482.59" y1="309.60" x2="482.59" y2="312.00" stroke="#1a1718" stroke-width="1.1" />
<line x1="489.35" y1="309.60" x2="489.35" y2="312.00" stroke="#1a1718" stroke-width="1.1" />
<line x1="495.21" y1="309.60" x2="495.21" y2="312.00" stroke="#1a1718" stroke-width="1.1" />
<line x1="500.38" y1="309.60" x2="500.38" y2="312.00" stroke="#1a1718" stroke-width="1.1" />
<line x1="505.00" y1="309.60" x2="505.00" y2="312.80" stroke="#1a1718" stroke-width="1.1" />
<text x="303.00" y="328.40" font-size="9.8" fill="#231f20" stroke="#231f20" stroke-width="0.1" text-anchor="middle" textLength="11.95" lengthAdjust="spacingAndGlyphs" >0.1</text>
<text x="373.60" y="328.40" font-size="9.8" fill="#231f20" stroke="#231f20" stroke-width="0.1" text-anchor="middle" textLength="11.95" lengthAdjust="spacingAndGlyphs" >0.5</text>
<text x="404.00" y="328.40" font-size="9.8" fill="#231f20" stroke="#231f20" stroke-width="0.1" text-anchor="middle" textLength="4.78" lengthAdjust="spacingAndGlyphs" >1</text>
<text x="421.79" y="328.40" font-size="9.8" fill="#231f20" stroke="#231f20" stroke-width="0.1" text-anchor="middle" textLength="11.95" lengthAdjust="spacingAndGlyphs" >1.5</text>
<text x="434.40" y="328.40" font-size="9.8" fill="#231f20" stroke="#231f20" stroke-width="0.1" text-anchor="middle" textLength="4.78" lengthAdjust="spacingAndGlyphs" >2</text>
<text x="452.19" y="328.40" font-size="9.8" fill="#231f20" stroke="#231f20" stroke-width="0.1" text-anchor="middle" textLength="4.78" lengthAdjust="spacingAndGlyphs" >3</text>
<text x="464.81" y="328.40" font-size="9.8" fill="#231f20" stroke="#231f20" stroke-width="0.1" text-anchor="middle" textLength="4.78" lengthAdjust="spacingAndGlyphs" >4</text>
<text x="474.60" y="328.40" font-size="9.8" fill="#231f20" stroke="#231f20" stroke-width="0.1" text-anchor="middle" textLength="4.78" lengthAdjust="spacingAndGlyphs" >5</text>
<text x="505.00" y="328.40" font-size="9.8" fill="#231f20" stroke="#231f20" stroke-width="0.1" text-anchor="middle" textLength="9.56" lengthAdjust="spacingAndGlyphs" >10</text>
<text x="405.80" y="343.00" font-size="10.5" fill="#231f20" stroke="#231f20" stroke-width="0.1" text-anchor="middle" textLength="12.90" lengthAdjust="spacingAndGlyphs" >HR</text>
<text x="278.6" y="180.6" font-size="10" fill="#1a1718" stroke="#1a1718" stroke-width="0.1" text-anchor="middle" transform="rotate(-90 278.6 180.6)" textLength="61.5" lengthAdjust="spacingAndGlyphs">−log<tspan font-size="6.5" dy="2.5">10</tspan><tspan dy="-2.5">(</tspan><tspan font-style="italic">P</tspan> value)</text>
<text x="483" y="287.8" font-size="9" fill="#1a1718" stroke="#1a1718" stroke-width="0.1" textLength="26" lengthAdjust="spacingAndGlyphs"><tspan font-style="italic">P</tspan> = .05</text>
<text x="327.50" y="69.30" font-size="8.2" fill="#231f20" stroke="#231f20" stroke-width="0.1" textLength="38.00" lengthAdjust="spacingAndGlyphs" >Frequency</text>
<circle cx="330.00" cy="86.00" r="11.00" fill="#cecece" stroke="#c0c0c0" stroke-width="0.8" />
<text x="353.40" y="87.50" font-size="8.2" fill="#231f20" stroke="#231f20" stroke-width="0.1" textLength="20.10" lengthAdjust="spacingAndGlyphs" >≥50%</text>
<circle cx="330.00" cy="102.50" r="9.00" fill="#cecece" stroke="#c0c0c0" stroke-width="0.8" />
<text x="344.60" y="103.00" font-size="8.2" fill="#231f20" stroke="#231f20" stroke-width="0.1" textLength="37.70" lengthAdjust="spacingAndGlyphs" >&lt;50, ≥20%</text>
<circle cx="330.00" cy="117.40" r="6.60" fill="#cecece" stroke="#c0c0c0" stroke-width="0.8" />
<text x="344.60" y="118.20" font-size="8.2" fill="#231f20" stroke="#231f20" stroke-width="0.1" textLength="37.70" lengthAdjust="spacingAndGlyphs" >&lt;20, ≥10%</text>
<circle cx="330.00" cy="132.60" r="4.80" fill="#cecece" stroke="#c0c0c0" stroke-width="0.8" />
<text x="347.30" y="134.30" font-size="8.2" fill="#231f20" stroke="#231f20" stroke-width="0.1" textLength="33.70" lengthAdjust="spacingAndGlyphs" >&lt;10, ≥5%</text>
<circle cx="330.00" cy="148.10" r="2.70" fill="#cecece" stroke="#c0c0c0" stroke-width="0.8" />
<text x="356.00" y="150.10" font-size="8.2" fill="#231f20" stroke="#231f20" stroke-width="0.1" textLength="15.50" lengthAdjust="spacingAndGlyphs" >&lt;5%</text>
<circle cx="400.00" cy="305.50" r="13.00" fill="rgba(170,215,140,0.45)" stroke="#62a24a" stroke-width="1.2" />
<circle cx="392.70" cy="294.00" r="10.00" fill="rgba(150,205,120,0.5)" stroke="#62a24a" stroke-width="1.3" />
<circle cx="397.30" cy="299.00" r="11.00" fill="rgba(150,205,120,0.5)" stroke="#62a24a" stroke-width="1.3" />
<circle cx="403.00" cy="305.00" r="11.00" fill="rgba(150,205,120,0.5)" stroke="#62a24a" stroke-width="1.3" />
<circle cx="396.00" cy="306.00" r="9.00" fill="rgba(150,205,120,0.5)" stroke="#62a24a" stroke-width="1.3" />
<circle cx="408.00" cy="300.00" r="8.00" fill="rgba(150,205,120,0.5)" stroke="#62a24a" stroke-width="1.3" />
<circle cx="404.20" cy="308.60" r="4.00" fill="rgba(160,40,50,0.35)" stroke="rgba(140,40,50,0.5)" stroke-width="1.0" />
<circle cx="412.30" cy="302.00" r="5.00" fill="rgba(150,205,120,0.5)" stroke="#62a24a" stroke-width="1.3" />
<circle cx="358.30" cy="236.50" r="6.90" fill="rgba(150,205,120,0.5)" stroke="#62a24a" stroke-width="1.3" />
<circle cx="371.50" cy="242.00" r="7.30" fill="rgba(150,205,120,0.5)" stroke="#62a24a" stroke-width="1.3" />
<circle cx="383.00" cy="261.40" r="9.20" fill="rgba(150,205,120,0.5)" stroke="#62a24a" stroke-width="1.3" />
<circle cx="431.80" cy="220.80" r="11.70" fill="rgba(150,205,120,0.5)" stroke="#62a24a" stroke-width="1.3" />
<circle cx="432.10" cy="217.90" r="6.00" fill="rgba(150,205,120,0.5)" stroke="#62a24a" stroke-width="1.3" />
<circle cx="425.20" cy="245.80" r="10.80" fill="rgba(150,205,120,0.5)" stroke="#62a24a" stroke-width="1.3" />
<circle cx="428.80" cy="243.20" r="7.50" fill="rgba(150,205,120,0.5)" stroke="#62a24a" stroke-width="1.3" />
<circle cx="439.00" cy="253.00" r="4.70" fill="rgba(150,205,120,0.5)" stroke="#62a24a" stroke-width="1.3" />
<circle cx="418.10" cy="277.70" r="6.90" fill="rgba(150,205,120,0.5)" stroke="#62a24a" stroke-width="1.3" />
<circle cx="458.50" cy="95.90" r="4.90" fill="rgba(150,205,120,0.5)" stroke="#62a24a" stroke-width="1.3" />
<circle cx="448.00" cy="60.00" r="9.60" fill="rgba(105,130,188,0.55)" stroke="#2a4480" stroke-width="1.3" />
<circle cx="446.80" cy="69.60" r="9.40" fill="rgba(105,130,188,0.55)" stroke="#2a4480" stroke-width="1.3" />
<circle cx="446.10" cy="66.60" r="6.20" fill="rgba(105,130,188,0.55)" stroke="#2a4480" stroke-width="1.3" />
<circle cx="445.80" cy="87.80" r="7.50" fill="rgba(105,130,188,0.55)" stroke="#2a4480" stroke-width="1.3" />
<circle cx="449.50" cy="127.00" r="5.00" fill="rgba(105,130,188,0.55)" stroke="#2a4480" stroke-width="1.3" />
<circle cx="445.50" cy="159.75" r="9.80" fill="rgba(150,205,120,0.5)" stroke="#62a24a" stroke-width="1.3" />
<circle cx="439.10" cy="158.10" r="7.00" fill="rgba(105,130,188,0.3)" stroke="#2a4480" stroke-width="1.3" />
<circle cx="449.75" cy="159.00" r="4.75" fill="rgba(105,130,188,0.55)" stroke="#2a4480" stroke-width="1.3" />
<circle cx="427.70" cy="268.60" r="4.60" fill="rgba(105,130,188,0.55)" stroke="#2a4480" stroke-width="1.3" />
<circle cx="440.20" cy="247.30" r="2.60" fill="rgba(105,130,188,0.55)" stroke="#2a4480" stroke-width="1.1" />
<circle cx="444.20" cy="248.40" r="2.60" fill="rgba(105,130,188,0.55)" stroke="#2a4480" stroke-width="1.1" />
<circle cx="425.60" cy="286.90" r="3.50" fill="rgba(105,130,188,0.55)" stroke="#2a4480" stroke-width="1.1" />
<circle cx="448.20" cy="84.40" r="6.70" fill="rgba(205,38,68,0.68)" stroke="#a3173c" stroke-width="1.3" />
<circle cx="434.60" cy="243.60" r="4.30" fill="rgba(205,38,68,0.68)" stroke="#a3173c" stroke-width="1.3" />
<circle cx="432.80" cy="246.60" r="4.00" fill="rgba(205,38,68,0.68)" stroke="#a3173c" stroke-width="1.3" />
<circle cx="434.80" cy="257.70" r="2.30" fill="rgba(235,150,165,0.9)" stroke="#a3173c" stroke-width="1.6" />
<circle cx="431.30" cy="280.00" r="2.30" fill="rgba(235,150,165,0.9)" stroke="#a3173c" stroke-width="1.6" />
<circle cx="370.00" cy="287.00" r="2.40" fill="rgba(235,150,165,0.9)" stroke="#a3173c" stroke-width="1.6" />
<circle cx="416.90" cy="283.50" r="6.50" fill="rgba(205,38,68,0.68)" stroke="#a3173c" stroke-width="1.3" />
<circle cx="415.80" cy="292.10" r="8.00" fill="rgba(205,38,68,0.68)" stroke="#a3173c" stroke-width="1.3" />
<circle cx="421.00" cy="289.80" r="6.50" fill="rgba(205,38,68,0.68)" stroke="#a3173c" stroke-width="1.3" />
<circle cx="422.70" cy="293.80" r="5.00" fill="rgba(205,38,68,0.68)" stroke="#a3173c" stroke-width="1.3" />
<line x1="404.4" y1="57" x2="404.4" y2="309" stroke="#1a1718" stroke-width="1.4" stroke-dasharray="1.3 2.0"/>
<line x1="304" y1="288.3" x2="509" y2="288.3" stroke="#1a1718" stroke-width="1.4" stroke-dasharray="1.3 2.0"/>
<line x1="301.50" y1="309.60" x2="509.70" y2="309.60" stroke="#1a1718" stroke-width="1.7" />
<text x="443.50" y="47.50" font-size="6.3" fill="#34508a" textLength="8.50" lengthAdjust="spacingAndGlyphs" >CK</text>
<text x="412.00" y="55.50" font-size="6.3" fill="#34508a" textLength="15.00" lengthAdjust="spacingAndGlyphs" >CKcg</text>
<line x1="428.75" y1="54.25" x2="440.00" y2="61.50" stroke="#2a4480" stroke-width="1.3" />
<text x="458.75" y="71.30" font-size="6.3" fill="#34508a" textLength="53.00" lengthAdjust="spacingAndGlyphs" >High-risk cytogenetic</text>
<text x="458.75" y="77.80" font-size="6.3" fill="#34508a" textLength="28.75" lengthAdjust="spacingAndGlyphs" >abnormality</text>
<text x="457.50" y="86.30" font-size="6.9" fill="#b0174a" stroke="#b0174a" stroke-width="0.2" font-style="italic" textLength="13.00" lengthAdjust="spacingAndGlyphs" >TP53</text>
<text x="418.25" y="97.80" font-size="6.3" fill="#34508a" textLength="20.50" lengthAdjust="spacingAndGlyphs" >CK-like</text>
<text x="462.50" y="104.80" font-size="6.3" fill="#7ab35c" textLength="20.50" lengthAdjust="spacingAndGlyphs" >PS (≥3)</text>
<text x="440.00" y="120.30" font-size="6.3" fill="#34508a" textLength="17.00" lengthAdjust="spacingAndGlyphs" >del(5q)</text>
<text x="408.75" y="153.50" font-size="6.3" fill="#34508a" textLength="23.75" lengthAdjust="spacingAndGlyphs" >-7/del(7q)</text>
<text x="464.50" y="155.50" font-size="6.3" fill="#34508a" textLength="21.75" lengthAdjust="spacingAndGlyphs" >17pLOH</text>
<line x1="454.50" y1="156.25" x2="462.50" y2="153.75" stroke="#2a4480" stroke-width="1.3" />
<text x="436.25" y="176.00" font-size="6.3" fill="#7ab35c" textLength="43.75" lengthAdjust="spacingAndGlyphs" >Dx at HCT: sAML</text>
<text x="433.00" y="199.30" font-size="6.3" fill="#7ab35c" textLength="19.00" lengthAdjust="spacingAndGlyphs" >HCT-CI</text>
<line x1="439.60" y1="201.70" x2="436.70" y2="209.20" stroke="#62a24a" stroke-width="1.3" />
<text x="445.50" y="221.80" font-size="6.3" fill="#7ab35c" textLength="29.50" lengthAdjust="spacingAndGlyphs" >Age at HCT</text>
<text x="443.75" y="231.00" font-size="6.9" fill="#b0174a" stroke="#b0174a" stroke-width="0.2" font-style="italic" textLength="11.75" lengthAdjust="spacingAndGlyphs" >CBL</text>
<text x="448.00" y="237.80" font-size="6.9" fill="#b0174a" stroke="#b0174a" stroke-width="0.2" font-style="italic" textLength="15.00" lengthAdjust="spacingAndGlyphs" >NRAS</text>
<line x1="443.10" y1="232.30" x2="436.10" y2="239.80" stroke="#a3173c" stroke-width="1.3" />
<line x1="446.00" y1="237.50" x2="439.00" y2="242.10" stroke="#a3173c" stroke-width="1.3" />
<text x="452.50" y="243.50" font-size="6.3" fill="#34508a" textLength="21.25" lengthAdjust="spacingAndGlyphs" >del(12p)</text>
<line x1="452.30" y1="241.50" x2="443.10" y2="245.60" stroke="#2a4480" stroke-width="1.2" />
<text x="448.00" y="251.00" font-size="6.3" fill="#34508a" textLength="13.25" lengthAdjust="spacingAndGlyphs" >+21q</text>
<text x="445.50" y="258.50" font-size="6.3" fill="#7ab35c" textLength="57.00" lengthAdjust="spacingAndGlyphs" >Dx at HCT: MDS/MPN</text>
<text x="435.00" y="266.00" font-size="6.9" fill="#b0174a" stroke="#b0174a" stroke-width="0.2" font-style="italic" textLength="15.00" lengthAdjust="spacingAndGlyphs" >EZH2</text>
<text x="411.70" y="267.30" font-size="6.3" fill="#34508a" textLength="9.60" lengthAdjust="spacingAndGlyphs" >+1q</text>
<text x="434.80" y="282.30" font-size="6.9" fill="#b0174a" stroke="#b0174a" stroke-width="0.2" font-style="italic" textLength="14.40" lengthAdjust="spacingAndGlyphs" >PHF6</text>
<text x="438.70" y="294.30" font-size="6.3" fill="#34508a" textLength="18.30" lengthAdjust="spacingAndGlyphs" >del(20q)</text>
<line x1="427.90" y1="288.10" x2="440.00" y2="291.00" stroke="#2a4480" stroke-width="1.2" />
<text x="432.00" y="300.00" font-size="6.9" fill="#b0174a" stroke="#b0174a" stroke-width="0.2" font-style="italic" textLength="12.40" lengthAdjust="spacingAndGlyphs" >FLT3</text>
<line x1="426.10" y1="289.80" x2="432.50" y2="293.30" stroke="#a3173c" stroke-width="1.2" />
<text x="358.00" y="194.80" font-size="6.3" fill="#7ab35c" textLength="27.00" lengthAdjust="spacingAndGlyphs" >Dx at HCT:</text>
<text x="358.00" y="201.80" font-size="6.3" fill="#7ab35c" textLength="42.00" lengthAdjust="spacingAndGlyphs" >Higher-risk MDS</text>
<line x1="402.00" y1="202.50" x2="424.00" y2="234.60" stroke="#62a24a" stroke-width="1.3" />
<text x="328.75" y="211.80" font-size="6.3" fill="#7ab35c" textLength="35.00" lengthAdjust="spacingAndGlyphs" >Days from Dx</text>
<text x="328.75" y="218.80" font-size="6.3" fill="#7ab35c" textLength="18.25" lengthAdjust="spacingAndGlyphs" >to HCT</text>
<line x1="357.00" y1="216.25" x2="369.20" y2="235.40" stroke="#62a24a" stroke-width="1.3" />
<text x="376.25" y="225.30" font-size="6.3" fill="#7ab35c" textLength="37.50" lengthAdjust="spacingAndGlyphs" >Disease status</text>
<text x="376.25" y="232.30" font-size="6.3" fill="#7ab35c" textLength="16.25" lengthAdjust="spacingAndGlyphs" >Ref/Rel</text>
<line x1="398.60" y1="228.50" x2="416.50" y2="243.30" stroke="#62a24a" stroke-width="1.3" />
<text x="308.25" y="239.30" font-size="6.3" fill="#7ab35c" textLength="41.75" lengthAdjust="spacingAndGlyphs" >RBC transfusion</text>
<text x="308.25" y="246.00" font-size="6.3" fill="#7ab35c" textLength="22.25" lengthAdjust="spacingAndGlyphs" >history(-)</text>
<text x="308.25" y="264.80" font-size="6.3" fill="#7ab35c" textLength="63.75" lengthAdjust="spacingAndGlyphs" >PLT transfusion history(-)</text>
<text x="343.00" y="276.80" font-size="6.3" fill="#7ab35c" textLength="54.50" lengthAdjust="spacingAndGlyphs" >Female donor to male</text>
<line x1="400.20" y1="275.40" x2="411.10" y2="276.50" stroke="#62a24a" stroke-width="1.3" />
<text x="348.75" y="285.30" font-size="6.9" fill="#b0174a" stroke="#b0174a" stroke-width="0.2" font-style="italic" textLength="17.50" lengthAdjust="spacingAndGlyphs" >PRPF8</text>
<text x="378.00" y="283.50" font-size="6.9" fill="#b0174a" stroke="#b0174a" stroke-width="0.2" font-style="italic" textLength="16.50" lengthAdjust="spacingAndGlyphs" >RUNX1</text>
<line x1="397.30" y1="281.10" x2="410.60" y2="282.90" stroke="#a3173c" stroke-width="1.3" />
<text x="10.00" y="389.50" font-size="12.5" fill="#000" font-weight="bold" >C</text>
<line x1="54.80" y1="422.50" x2="54.80" y2="582.20" stroke="#1a1718" stroke-width="1.6" />
<line x1="51.30" y1="581.30" x2="54.80" y2="581.30" stroke="#1a1718" stroke-width="1.2" />
<line x1="52.30" y1="575.00" x2="54.80" y2="575.00" stroke="#1a1718" stroke-width="1.2" />
<line x1="52.30" y1="568.70" x2="54.80" y2="568.70" stroke="#1a1718" stroke-width="1.2" />
<line x1="52.30" y1="562.40" x2="54.80" y2="562.40" stroke="#1a1718" stroke-width="1.2" />
<line x1="52.30" y1="556.10" x2="54.80" y2="556.10" stroke="#1a1718" stroke-width="1.2" />
<line x1="51.30" y1="549.80" x2="54.80" y2="549.80" stroke="#1a1718" stroke-width="1.2" />
<line x1="52.30" y1="543.50" x2="54.80" y2="543.50" stroke="#1a1718" stroke-width="1.2" />
<line x1="52.30" y1="537.20" x2="54.80" y2="537.20" stroke="#1a1718" stroke-width="1.2" />
<line x1="52.30" y1="530.90" x2="54.80" y2="530.90" stroke="#1a1718" stroke-width="1.2" />
<line x1="52.30" y1="524.60" x2="54.80" y2="524.60" stroke="#1a1718" stroke-width="1.2" />
<line x1="51.30" y1="518.30" x2="54.80" y2="518.30" stroke="#1a1718" stroke-width="1.2" />
<line x1="52.30" y1="512.00" x2="54.80" y2="512.00" stroke="#1a1718" stroke-width="1.2" />
<line x1="52.30" y1="505.70" x2="54.80" y2="505.70" stroke="#1a1718" stroke-width="1.2" />
<line x1="52.30" y1="499.40" x2="54.80" y2="499.40" stroke="#1a1718" stroke-width="1.2" />
<line x1="52.30" y1="493.10" x2="54.80" y2="493.10" stroke="#1a1718" stroke-width="1.2" />
<line x1="51.30" y1="486.80" x2="54.80" y2="486.80" stroke="#1a1718" stroke-width="1.2" />
<line x1="52.30" y1="480.50" x2="54.80" y2="480.50" stroke="#1a1718" stroke-width="1.2" />
<line x1="52.30" y1="474.20" x2="54.80" y2="474.20" stroke="#1a1718" stroke-width="1.2" />
<line x1="52.30" y1="467.90" x2="54.80" y2="467.90" stroke="#1a1718" stroke-width="1.2" />
<line x1="52.30" y1="461.60" x2="54.80" y2="461.60" stroke="#1a1718" stroke-width="1.2" />
<line x1="51.30" y1="455.30" x2="54.80" y2="455.30" stroke="#1a1718" stroke-width="1.2" />
<line x1="52.30" y1="449.00" x2="54.80" y2="449.00" stroke="#1a1718" stroke-width="1.2" />
<line x1="52.30" y1="442.70" x2="54.80" y2="442.70" stroke="#1a1718" stroke-width="1.2" />
<line x1="52.30" y1="436.40" x2="54.80" y2="436.40" stroke="#1a1718" stroke-width="1.2" />
<line x1="52.30" y1="430.10" x2="54.80" y2="430.10" stroke="#1a1718" stroke-width="1.2" />
<line x1="51.30" y1="423.80" x2="54.80" y2="423.80" stroke="#1a1718" stroke-width="1.2" />
<text x="47.50" y="584.40" font-size="8.8" fill="#231f20" stroke="#231f20" stroke-width="0.1" text-anchor="end" >0</text>
<text x="47.50" y="552.90" font-size="8.8" fill="#231f20" stroke="#231f20" stroke-width="0.1" text-anchor="end" >20</text>
<text x="47.50" y="521.40" font-size="8.8" fill="#231f20" stroke="#231f20" stroke-width="0.1" text-anchor="end" >40</text>
<text x="47.50" y="489.90" font-size="8.8" fill="#231f20" stroke="#231f20" stroke-width="0.1" text-anchor="end" >60</text>
<text x="47.50" y="458.40" font-size="8.8" fill="#231f20" stroke="#231f20" stroke-width="0.1" text-anchor="end" >80</text>
<text x="47.50" y="426.90" font-size="8.8" fill="#231f20" stroke="#231f20" stroke-width="0.1" text-anchor="end" >100</text>
<text x="28.60" y="502.30" font-size="10.2" fill="#231f20" stroke="#231f20" stroke-width="0.1" text-anchor="middle" textLength="14.40" lengthAdjust="spacingAndGlyphs" transform="rotate(-90 28.60 502.30)" >(%)</text>
<rect x="58.50" y="423.20" width="112.90" height="1.80" fill="#555253" />
<rect x="58.50" y="425.00" width="112.90" height="5.60" fill="#c6c2cf" />
<rect x="58.50" y="430.60" width="112.90" height="8.60" fill="#ae721f" />
<rect x="58.50" y="439.20" width="112.90" height="12.30" fill="#ebbb2b" />
<rect x="58.50" y="451.50" width="112.90" height="13.20" fill="#58a743" />
<rect x="58.50" y="464.70" width="112.90" height="15.00" fill="#d0167d" />
<rect x="58.50" y="479.70" width="112.90" height="14.00" fill="#2a4b89" />
<rect x="58.50" y="493.70" width="112.90" height="20.90" fill="#b2153a" />
<rect x="58.50" y="514.60" width="112.90" height="66.40" fill="#2e6a4f" />
<text x="114.70" y="437.90" font-size="9.719999999999999" fill="#ffffff" text-anchor="middle" textLength="10.81" lengthAdjust="spacingAndGlyphs" >PS</text>
<text x="114.70" y="448.30" font-size="9.719999999999999" fill="#ffffff" text-anchor="middle" textLength="78.78" lengthAdjust="spacingAndGlyphs" >Female donor to male</text>
<text x="114.70" y="462.20" font-size="9.719999999999999" fill="#ffffff" text-anchor="middle" textLength="27.00" lengthAdjust="spacingAndGlyphs" >HCT-CI</text>
<text x="114.70" y="476.40" font-size="9.719999999999999" fill="#ffffff" text-anchor="middle" textLength="84.63" lengthAdjust="spacingAndGlyphs" >Disease status: Ref/Rel</text>
<text x="114.70" y="490.20" font-size="9.719999999999999" fill="#ffffff" text-anchor="middle" textLength="62.11" lengthAdjust="spacingAndGlyphs" >Dx at HCT: sAML</text>
<text x="114.70" y="508.20" font-size="9.719999999999999" fill="#ffffff" text-anchor="middle" textLength="85.08" lengthAdjust="spacingAndGlyphs" >RBC transfusion history</text>
<text x="114.70" y="548.60" font-size="9.719999999999999" fill="#ffffff" text-anchor="middle" textLength="14.41" lengthAdjust="spacingAndGlyphs" >Age</text>
<rect x="173.20" y="423.50" width="47.70" height="11.60" fill="#60a6de" />
<rect x="173.20" y="435.10" width="47.70" height="15.80" fill="#e0891d" />
<rect x="173.20" y="450.90" width="47.70" height="22.00" fill="#8b84c5" />
<rect x="173.20" y="472.90" width="47.70" height="50.30" fill="#a6ad7c" />
<rect x="173.20" y="523.20" width="47.70" height="57.80" fill="#55297a" />
<text x="197.05" y="432.5" font-size="8.4" fill="#fff" text-anchor="middle"><tspan font-style="italic">CBL</tspan><tspan font-size="5.5" dy="-3">mut</tspan></text>
<text x="197.05" y="446.5" font-size="8.4" fill="#fff" text-anchor="middle"><tspan font-style="italic">NRAS</tspan><tspan font-size="5.5" dy="-3">mut</tspan></text>
<text x="197.05" y="464.5" font-size="8.4" fill="#fff" text-anchor="middle"><tspan font-style="italic">TP53</tspan><tspan font-size="5.5" dy="-3">mut</tspan></text>
<text x="197.05" y="496.60" font-size="9.719999999999999" fill="#ffffff" text-anchor="middle" textLength="31.96" lengthAdjust="spacingAndGlyphs" >Complex</text>
<text x="197.05" y="507.00" font-size="9.719999999999999" fill="#ffffff" text-anchor="middle" textLength="35.11" lengthAdjust="spacingAndGlyphs" >karyotype</text>
<text x="197.05" y="544.20" font-size="9.719999999999999" fill="#ffffff" text-anchor="middle" textLength="31.95" lengthAdjust="spacingAndGlyphs" >High-risk</text>
<text x="197.05" y="554.00" font-size="9.719999999999999" fill="#ffffff" text-anchor="middle" textLength="40.97" lengthAdjust="spacingAndGlyphs" >cytogenetic</text>
<text x="197.05" y="563.20" font-size="9.719999999999999" fill="#ffffff" text-anchor="middle" textLength="41.87" lengthAdjust="spacingAndGlyphs" >abnormality</text>
<text x="115.20" y="404.00" font-size="8.4" fill="#231f20" stroke="#231f20" stroke-width="0.1" textLength="68.00" lengthAdjust="spacingAndGlyphs" >Disease status: CR</text>
<text x="134.80" y="416.20" font-size="8.4" fill="#231f20" stroke="#231f20" stroke-width="0.1" textLength="83.00" lengthAdjust="spacingAndGlyphs" >Days from Dx to HSCT</text>
<line x1="116.50" y1="406.30" x2="95.50" y2="420.80" stroke="#1a1718" stroke-width="1.2" />
<polygon points="93,423.3 95.2,417.8 98.8,421.6" fill="#1a1718"/>
<line x1="132.40" y1="414.50" x2="113.00" y2="424.20" stroke="#1a1718" stroke-width="1.2" />
<polygon points="110.3,426 112.3,421.2 115,425.4" fill="#1a1718"/>
<polyline points="58.5,582.3 58.5,585.4 171.2,585.4 171.2,582.3" fill="none" stroke="#1a1718" stroke-width="1.2"/>
<polyline points="173.2,582.3 173.2,585.4 221,585.4 221,582.3" fill="none" stroke="#1a1718" stroke-width="1.2"/>
<text x="86.80" y="597.00" font-size="8.5" fill="#231f20" stroke="#231f20" stroke-width="0.1" textLength="55.30" lengthAdjust="spacingAndGlyphs" >Clinical factors</text>
<text x="167.00" y="597.00" font-size="8.5" fill="#231f20" stroke="#231f20" stroke-width="0.1" textLength="59.00" lengthAdjust="spacingAndGlyphs" >Genetic factors</text>
<line x1="57.80" y1="608.50" x2="222.00" y2="608.50" stroke="#1a1718" stroke-width="1.5" />
<line x1="58.30" y1="603.70" x2="58.30" y2="608.50" stroke="#1a1718" stroke-width="1.2" />
<line x1="64.83" y1="606.00" x2="64.83" y2="608.50" stroke="#1a1718" stroke-width="1.2" />
<line x1="71.36" y1="606.00" x2="71.36" y2="608.50" stroke="#1a1718" stroke-width="1.2" />
<line x1="77.88" y1="606.00" x2="77.88" y2="608.50" stroke="#1a1718" stroke-width="1.2" />
<line x1="84.41" y1="606.00" x2="84.41" y2="608.50" stroke="#1a1718" stroke-width="1.2" />
<line x1="90.94" y1="603.70" x2="90.94" y2="608.50" stroke="#1a1718" stroke-width="1.2" />
<line x1="97.47" y1="606.00" x2="97.47" y2="608.50" stroke="#1a1718" stroke-width="1.2" />
<line x1="104.00" y1="606.00" x2="104.00" y2="608.50" stroke="#1a1718" stroke-width="1.2" />
<line x1="110.52" y1="606.00" x2="110.52" y2="608.50" stroke="#1a1718" stroke-width="1.2" />
<line x1="117.05" y1="606.00" x2="117.05" y2="608.50" stroke="#1a1718" stroke-width="1.2" />
<line x1="123.58" y1="603.70" x2="123.58" y2="608.50" stroke="#1a1718" stroke-width="1.2" />
<line x1="130.11" y1="606.00" x2="130.11" y2="608.50" stroke="#1a1718" stroke-width="1.2" />
<line x1="136.64" y1="606.00" x2="136.64" y2="608.50" stroke="#1a1718" stroke-width="1.2" />
<line x1="143.16" y1="606.00" x2="143.16" y2="608.50" stroke="#1a1718" stroke-width="1.2" />
<line x1="149.69" y1="606.00" x2="149.69" y2="608.50" stroke="#1a1718" stroke-width="1.2" />
<line x1="156.22" y1="603.70" x2="156.22" y2="608.50" stroke="#1a1718" stroke-width="1.2" />
<line x1="162.75" y1="606.00" x2="162.75" y2="608.50" stroke="#1a1718" stroke-width="1.2" />
<line x1="169.28" y1="606.00" x2="169.28" y2="608.50" stroke="#1a1718" stroke-width="1.2" />
<line x1="175.80" y1="606.00" x2="175.80" y2="608.50" stroke="#1a1718" stroke-width="1.2" />
<line x1="182.33" y1="606.00" x2="182.33" y2="608.50" stroke="#1a1718" stroke-width="1.2" />
<line x1="188.86" y1="603.70" x2="188.86" y2="608.50" stroke="#1a1718" stroke-width="1.2" />
<line x1="195.39" y1="606.00" x2="195.39" y2="608.50" stroke="#1a1718" stroke-width="1.2" />
<line x1="201.92" y1="606.00" x2="201.92" y2="608.50" stroke="#1a1718" stroke-width="1.2" />
<line x1="208.44" y1="606.00" x2="208.44" y2="608.50" stroke="#1a1718" stroke-width="1.2" />
<line x1="214.97" y1="606.00" x2="214.97" y2="608.50" stroke="#1a1718" stroke-width="1.2" />
<line x1="221.50" y1="603.70" x2="221.50" y2="608.50" stroke="#1a1718" stroke-width="1.2" />
<text x="58.30" y="621.10" font-size="8.8" fill="#231f20" stroke="#231f20" stroke-width="0.1" text-anchor="middle" >0</text>
<text x="90.94" y="621.10" font-size="8.8" fill="#231f20" stroke="#231f20" stroke-width="0.1" text-anchor="middle" >20</text>
<text x="123.58" y="621.10" font-size="8.8" fill="#231f20" stroke="#231f20" stroke-width="0.1" text-anchor="middle" >40</text>
<text x="156.22" y="621.10" font-size="8.8" fill="#231f20" stroke="#231f20" stroke-width="0.1" text-anchor="middle" >60</text>
<text x="188.86" y="621.10" font-size="8.8" fill="#231f20" stroke="#231f20" stroke-width="0.1" text-anchor="middle" >80</text>
<text x="221.50" y="621.10" font-size="8.8" fill="#231f20" stroke="#231f20" stroke-width="0.1" text-anchor="middle" >100</text>
<text x="140.30" y="636.00" font-size="9.6" fill="#231f20" stroke="#231f20" stroke-width="0.1" text-anchor="middle" >(%)</text>
<text x="258.00" y="389.50" font-size="12.5" fill="#000" font-weight="bold" >D</text>
<text x="303.50" y="404.20" font-size="10" fill="#231f20" stroke="#231f20" stroke-width="0.1" textLength="176.00" lengthAdjust="spacingAndGlyphs" >Number of unfavorable genetic factors</text>
<line x1="302.30" y1="412.00" x2="302.30" y2="572.80" stroke="#1a1718" stroke-width="1.6" />
<line x1="301.50" y1="572.00" x2="480.00" y2="572.00" stroke="#1a1718" stroke-width="1.6" />
<line x1="298.50" y1="566.00" x2="302.30" y2="566.00" stroke="#1a1718" stroke-width="1.3" />
<text x="295.00" y="569.10" font-size="8.8" fill="#231f20" stroke="#231f20" stroke-width="0.1" text-anchor="end" >0</text>
<line x1="298.50" y1="535.90" x2="302.30" y2="535.90" stroke="#1a1718" stroke-width="1.3" />
<text x="295.00" y="539.00" font-size="8.8" fill="#231f20" stroke="#231f20" stroke-width="0.1" text-anchor="end" >0.2</text>
<line x1="298.50" y1="505.80" x2="302.30" y2="505.80" stroke="#1a1718" stroke-width="1.3" />
<text x="295.00" y="508.90" font-size="8.8" fill="#231f20" stroke="#231f20" stroke-width="0.1" text-anchor="end" >0.4</text>
<line x1="298.50" y1="475.70" x2="302.30" y2="475.70" stroke="#1a1718" stroke-width="1.3" />
<text x="295.00" y="478.80" font-size="8.8" fill="#231f20" stroke="#231f20" stroke-width="0.1" text-anchor="end" >0.6</text>
<line x1="298.50" y1="445.60" x2="302.30" y2="445.60" stroke="#1a1718" stroke-width="1.3" />
<text x="295.00" y="448.70" font-size="8.8" fill="#231f20" stroke="#231f20" stroke-width="0.1" text-anchor="end" >0.8</text>
<line x1="298.50" y1="415.50" x2="302.30" y2="415.50" stroke="#1a1718" stroke-width="1.3" />
<text x="295.00" y="418.60" font-size="8.8" fill="#231f20" stroke="#231f20" stroke-width="0.1" text-anchor="end" >1.0</text>
<line x1="308.75" y1="572.00" x2="308.75" y2="575.30" stroke="#1a1718" stroke-width="1.3" />
<text x="308.75" y="585.80" font-size="8.6" fill="#231f20" stroke="#231f20" stroke-width="0.1" text-anchor="middle" >0</text>
<line x1="325.18" y1="572.00" x2="325.18" y2="575.30" stroke="#1a1718" stroke-width="1.3" />
<text x="325.18" y="585.80" font-size="8.6" fill="#231f20" stroke="#231f20" stroke-width="0.1" text-anchor="middle" >20</text>
<line x1="341.61" y1="572.00" x2="341.61" y2="575.30" stroke="#1a1718" stroke-width="1.3" />
<text x="341.61" y="585.80" font-size="8.6" fill="#231f20" stroke="#231f20" stroke-width="0.1" text-anchor="middle" >40</text>
<line x1="358.04" y1="572.00" x2="358.04" y2="575.30" stroke="#1a1718" stroke-width="1.3" />
<text x="358.04" y="585.80" font-size="8.6" fill="#231f20" stroke="#231f20" stroke-width="0.1" text-anchor="middle" >60</text>
<line x1="374.47" y1="572.00" x2="374.47" y2="575.30" stroke="#1a1718" stroke-width="1.3" />
<text x="374.47" y="585.80" font-size="8.6" fill="#231f20" stroke="#231f20" stroke-width="0.1" text-anchor="middle" >80</text>
<line x1="390.90" y1="572.00" x2="390.90" y2="575.30" stroke="#1a1718" stroke-width="1.3" />
<text x="390.90" y="585.80" font-size="8.6" fill="#231f20" stroke="#231f20" stroke-width="0.1" text-anchor="middle" >100</text>
<line x1="407.33" y1="572.00" x2="407.33" y2="575.30" stroke="#1a1718" stroke-width="1.3" />
<text x="407.33" y="585.80" font-size="8.6" fill="#231f20" stroke="#231f20" stroke-width="0.1" text-anchor="middle" >120</text>
<line x1="423.76" y1="572.00" x2="423.76" y2="575.30" stroke="#1a1718" stroke-width="1.3" />
<text x="423.76" y="585.80" font-size="8.6" fill="#231f20" stroke="#231f20" stroke-width="0.1" text-anchor="middle" >140</text>
<line x1="440.19" y1="572.00" x2="440.19" y2="575.30" stroke="#1a1718" stroke-width="1.3" />
<text x="440.19" y="585.80" font-size="8.6" fill="#231f20" stroke="#231f20" stroke-width="0.1" text-anchor="middle" >160</text>
<line x1="456.62" y1="572.00" x2="456.62" y2="575.30" stroke="#1a1718" stroke-width="1.3" />
<text x="456.62" y="585.80" font-size="8.6" fill="#231f20" stroke="#231f20" stroke-width="0.1" text-anchor="middle" >180</text>
<line x1="473.05" y1="572.00" x2="473.05" y2="575.30" stroke="#1a1718" stroke-width="1.3" />
<text x="473.05" y="585.80" font-size="8.6" fill="#231f20" stroke="#231f20" stroke-width="0.1" text-anchor="middle" >200</text>
<text x="376.25" y="599.50" font-size="10" fill="#231f20" stroke="#231f20" stroke-width="0.1" textLength="30.00" lengthAdjust="spacingAndGlyphs" >Months</text>
<text x="278.90" y="492.60" font-size="10.6" fill="#231f20" stroke="#231f20" stroke-width="0.1" text-anchor="middle" textLength="59.30" lengthAdjust="spacingAndGlyphs" transform="rotate(-90 278.90 492.60)" >Overall survival</text>
<line x1="435.50" y1="421.25" x2="448.00" y2="421.25" stroke="#4a2a6c" stroke-width="2" />
<text x="452.50" y="424.35" font-size="8.6" fill="#231f20" stroke="#231f20" stroke-width="0.1" >(–)</text>
<line x1="435.50" y1="431.25" x2="448.00" y2="431.25" stroke="#2c5190" stroke-width="2" />
<text x="458.25" y="434.35" font-size="8.6" fill="#231f20" stroke="#231f20" stroke-width="0.1" text-anchor="middle" >1</text>
<line x1="435.50" y1="442.00" x2="448.00" y2="442.00" stroke="#67ab45" stroke-width="2" />
<text x="458.25" y="445.10" font-size="8.6" fill="#231f20" stroke="#231f20" stroke-width="0.1" text-anchor="middle" >2</text>
<line x1="435.50" y1="452.50" x2="448.00" y2="452.50" stroke="#a5163d" stroke-width="2" />
<text x="452.50" y="455.60" font-size="8.6" fill="#231f20" stroke="#231f20" stroke-width="0.1" >3-4</text>
<polyline points="309.20,416.00 311.70,433.00 313.70,442.70 316.50,452.30 320.40,461.90 324.20,466.70 331.90,471.50 339.60,474.40 351.20,476.30 356.90,479.20 362.70,484.00 366.50,486.90 374.20,487.90 384.80,488.80 384.80,495.80 476.00,495.80" fill="none" stroke="#4a2a6c" stroke-width="1.65" stroke-linejoin="round" />
<polyline points="309.20,416.00 311.70,438.80 313.70,467.70 315.00,480.00 317.30,489.20 320.40,496.90 325.00,504.60 329.60,507.70 338.80,509.20 346.50,510.80 363.50,510.80 363.50,514.20 462.50,514.20" fill="none" stroke="#2c5190" stroke-width="1.65" stroke-linejoin="round" />
<polyline points="309.20,416.00 310.50,445.00 311.80,470.00 312.70,480.00 314.20,495.40 316.50,510.80 318.80,523.10 321.90,532.30 325.00,536.90 328.00,536.20 332.70,540.00 334.20,543.80 341.90,544.60 343.50,547.70 380.40,547.70" fill="none" stroke="#67ab45" stroke-width="1.65" stroke-linejoin="round" />
<polyline points="309.20,416.00 311.90,516.20 313.50,516.20 313.50,528.50 316.50,528.50 316.50,541.50 318.10,541.50 318.10,553.20 341.90,553.20 341.90,566.00" fill="none" stroke="#a5163d" stroke-width="1.65" stroke-linejoin="round" />
<line x1="311.00" y1="426.24" x2="311.00" y2="430.24" stroke="#4a2a6c" stroke-width="0.9" />
<line x1="312.50" y1="434.88" x2="312.50" y2="438.88" stroke="#4a2a6c" stroke-width="0.9" />
<line x1="314.00" y1="441.73" x2="314.00" y2="445.73" stroke="#4a2a6c" stroke-width="0.9" />
<line x1="315.50" y1="446.87" x2="315.50" y2="450.87" stroke="#4a2a6c" stroke-width="0.9" />
<line x1="317.00" y1="451.53" x2="317.00" y2="455.53" stroke="#4a2a6c" stroke-width="0.9" />
<line x1="318.50" y1="455.22" x2="318.50" y2="459.22" stroke="#4a2a6c" stroke-width="0.9" />
<line x1="320.00" y1="458.92" x2="320.00" y2="462.92" stroke="#4a2a6c" stroke-width="0.9" />
<line x1="322.00" y1="461.92" x2="322.00" y2="465.92" stroke="#4a2a6c" stroke-width="0.9" />
<line x1="324.00" y1="464.45" x2="324.00" y2="468.45" stroke="#4a2a6c" stroke-width="0.9" />
<line x1="326.00" y1="465.82" x2="326.00" y2="469.82" stroke="#4a2a6c" stroke-width="0.9" />
<line x1="328.00" y1="467.07" x2="328.00" y2="471.07" stroke="#4a2a6c" stroke-width="0.9" />
<line x1="330.00" y1="468.32" x2="330.00" y2="472.32" stroke="#4a2a6c" stroke-width="0.9" />
<line x1="332.00" y1="469.54" x2="332.00" y2="473.54" stroke="#4a2a6c" stroke-width="0.9" />
<line x1="334.00" y1="470.29" x2="334.00" y2="474.29" stroke="#4a2a6c" stroke-width="0.9" />
<line x1="336.00" y1="471.04" x2="336.00" y2="475.04" stroke="#4a2a6c" stroke-width="0.9" />
<line x1="338.00" y1="471.80" x2="338.00" y2="475.80" stroke="#4a2a6c" stroke-width="0.9" />
<line x1="340.00" y1="472.47" x2="340.00" y2="476.47" stroke="#4a2a6c" stroke-width="0.9" />
<line x1="342.00" y1="472.79" x2="342.00" y2="476.79" stroke="#4a2a6c" stroke-width="0.9" />
<line x1="344.00" y1="473.12" x2="344.00" y2="477.12" stroke="#4a2a6c" stroke-width="0.9" />
<line x1="346.00" y1="473.45" x2="346.00" y2="477.45" stroke="#4a2a6c" stroke-width="0.9" />
<line x1="348.00" y1="473.78" x2="348.00" y2="477.78" stroke="#4a2a6c" stroke-width="0.9" />
<line x1="350.00" y1="474.10" x2="350.00" y2="478.10" stroke="#4a2a6c" stroke-width="0.9" />
<line x1="352.00" y1="474.71" x2="352.00" y2="478.71" stroke="#4a2a6c" stroke-width="0.9" />
<line x1="354.00" y1="475.72" x2="354.00" y2="479.72" stroke="#4a2a6c" stroke-width="0.9" />
<line x1="356.00" y1="476.74" x2="356.00" y2="480.74" stroke="#4a2a6c" stroke-width="0.9" />
<line x1="358.00" y1="478.11" x2="358.00" y2="482.11" stroke="#4a2a6c" stroke-width="0.9" />
<line x1="360.00" y1="479.77" x2="360.00" y2="483.77" stroke="#4a2a6c" stroke-width="0.9" />
<line x1="362.00" y1="481.42" x2="362.00" y2="485.42" stroke="#4a2a6c" stroke-width="0.9" />
<line x1="364.00" y1="482.99" x2="364.00" y2="486.99" stroke="#4a2a6c" stroke-width="0.9" />
<line x1="366.00" y1="484.52" x2="366.00" y2="488.52" stroke="#4a2a6c" stroke-width="0.9" />
<line x1="368.00" y1="485.09" x2="368.00" y2="489.09" stroke="#4a2a6c" stroke-width="0.9" />
<line x1="370.00" y1="485.35" x2="370.00" y2="489.35" stroke="#4a2a6c" stroke-width="0.9" />
<line x1="372.00" y1="485.61" x2="372.00" y2="489.61" stroke="#4a2a6c" stroke-width="0.9" />
<line x1="374.00" y1="485.87" x2="374.00" y2="489.87" stroke="#4a2a6c" stroke-width="0.9" />
<line x1="376.00" y1="486.05" x2="376.00" y2="490.05" stroke="#4a2a6c" stroke-width="0.9" />
<line x1="378.00" y1="486.22" x2="378.00" y2="490.22" stroke="#4a2a6c" stroke-width="0.9" />
<line x1="380.00" y1="486.39" x2="380.00" y2="490.39" stroke="#4a2a6c" stroke-width="0.9" />
<line x1="382.00" y1="486.56" x2="382.00" y2="490.56" stroke="#4a2a6c" stroke-width="0.9" />
<line x1="384.00" y1="486.73" x2="384.00" y2="490.73" stroke="#4a2a6c" stroke-width="0.9" />
<line x1="400.00" y1="493.80" x2="400.00" y2="497.80" stroke="#4a2a6c" stroke-width="0.9" />
<line x1="405.00" y1="493.80" x2="405.00" y2="497.80" stroke="#4a2a6c" stroke-width="0.9" />
<line x1="412.00" y1="493.80" x2="412.00" y2="497.80" stroke="#4a2a6c" stroke-width="0.9" />
<line x1="425.00" y1="493.80" x2="425.00" y2="497.80" stroke="#4a2a6c" stroke-width="0.9" />
<line x1="427.00" y1="493.80" x2="427.00" y2="497.80" stroke="#4a2a6c" stroke-width="0.9" />
<line x1="432.00" y1="493.80" x2="432.00" y2="497.80" stroke="#4a2a6c" stroke-width="0.9" />
<line x1="438.00" y1="493.80" x2="438.00" y2="497.80" stroke="#4a2a6c" stroke-width="0.9" />
<line x1="440.00" y1="493.80" x2="440.00" y2="497.80" stroke="#4a2a6c" stroke-width="0.9" />
<line x1="444.00" y1="493.80" x2="444.00" y2="497.80" stroke="#4a2a6c" stroke-width="0.9" />
<line x1="450.00" y1="493.80" x2="450.00" y2="497.80" stroke="#4a2a6c" stroke-width="0.9" />
<line x1="456.00" y1="493.80" x2="456.00" y2="497.80" stroke="#4a2a6c" stroke-width="0.9" />
<line x1="465.00" y1="493.80" x2="465.00" y2="497.80" stroke="#4a2a6c" stroke-width="0.9" />
<line x1="313.00" y1="455.59" x2="313.00" y2="459.59" stroke="#2c5190" stroke-width="0.9" />
<line x1="314.50" y1="473.27" x2="314.50" y2="477.27" stroke="#2c5190" stroke-width="0.9" />
<line x1="316.00" y1="482.00" x2="316.00" y2="486.00" stroke="#2c5190" stroke-width="0.9" />
<line x1="317.50" y1="487.70" x2="317.50" y2="491.70" stroke="#2c5190" stroke-width="0.9" />
<line x1="319.00" y1="491.42" x2="319.00" y2="495.42" stroke="#2c5190" stroke-width="0.9" />
<line x1="320.50" y1="495.07" x2="320.50" y2="499.07" stroke="#2c5190" stroke-width="0.9" />
<line x1="322.00" y1="497.58" x2="322.00" y2="501.58" stroke="#2c5190" stroke-width="0.9" />
<line x1="324.00" y1="500.93" x2="324.00" y2="504.93" stroke="#2c5190" stroke-width="0.9" />
<line x1="326.00" y1="503.27" x2="326.00" y2="507.27" stroke="#2c5190" stroke-width="0.9" />
<line x1="328.00" y1="504.62" x2="328.00" y2="508.62" stroke="#2c5190" stroke-width="0.9" />
<line x1="330.00" y1="505.77" x2="330.00" y2="509.77" stroke="#2c5190" stroke-width="0.9" />
<line x1="332.00" y1="506.09" x2="332.00" y2="510.09" stroke="#2c5190" stroke-width="0.9" />
<line x1="334.00" y1="506.42" x2="334.00" y2="510.42" stroke="#2c5190" stroke-width="0.9" />
<line x1="336.00" y1="506.74" x2="336.00" y2="510.74" stroke="#2c5190" stroke-width="0.9" />
<line x1="338.00" y1="507.07" x2="338.00" y2="511.07" stroke="#2c5190" stroke-width="0.9" />
<line x1="340.00" y1="507.45" x2="340.00" y2="511.45" stroke="#2c5190" stroke-width="0.9" />
<line x1="342.00" y1="507.86" x2="342.00" y2="511.86" stroke="#2c5190" stroke-width="0.9" />
<line x1="344.00" y1="508.28" x2="344.00" y2="512.28" stroke="#2c5190" stroke-width="0.9" />
<line x1="346.00" y1="508.70" x2="346.00" y2="512.70" stroke="#2c5190" stroke-width="0.9" />
<line x1="348.00" y1="508.80" x2="348.00" y2="512.80" stroke="#2c5190" stroke-width="0.9" />
<line x1="350.00" y1="508.80" x2="350.00" y2="512.80" stroke="#2c5190" stroke-width="0.9" />
<line x1="352.00" y1="508.80" x2="352.00" y2="512.80" stroke="#2c5190" stroke-width="0.9" />
<line x1="354.00" y1="508.80" x2="354.00" y2="512.80" stroke="#2c5190" stroke-width="0.9" />
<line x1="356.00" y1="508.80" x2="356.00" y2="512.80" stroke="#2c5190" stroke-width="0.9" />
<line x1="358.00" y1="508.80" x2="358.00" y2="512.80" stroke="#2c5190" stroke-width="0.9" />
<line x1="360.00" y1="508.80" x2="360.00" y2="512.80" stroke="#2c5190" stroke-width="0.9" />
<line x1="362.00" y1="508.80" x2="362.00" y2="512.80" stroke="#2c5190" stroke-width="0.9" />
<line x1="368.00" y1="512.20" x2="368.00" y2="516.20" stroke="#2c5190" stroke-width="0.9" />
<line x1="372.00" y1="512.20" x2="372.00" y2="516.20" stroke="#2c5190" stroke-width="0.9" />
<line x1="377.00" y1="512.20" x2="377.00" y2="516.20" stroke="#2c5190" stroke-width="0.9" />
<line x1="395.00" y1="512.20" x2="395.00" y2="516.20" stroke="#2c5190" stroke-width="0.9" />
<line x1="417.00" y1="512.20" x2="417.00" y2="516.20" stroke="#2c5190" stroke-width="0.9" />
<line x1="419.00" y1="512.20" x2="419.00" y2="516.20" stroke="#2c5190" stroke-width="0.9" />
<line x1="458.00" y1="512.20" x2="458.00" y2="516.20" stroke="#2c5190" stroke-width="0.9" />
<line x1="314.00" y1="491.35" x2="314.00" y2="495.35" stroke="#67ab45" stroke-width="0.9" />
<line x1="316.00" y1="505.45" x2="316.00" y2="509.45" stroke="#67ab45" stroke-width="0.9" />
<line x1="318.00" y1="516.82" x2="318.00" y2="520.82" stroke="#67ab45" stroke-width="0.9" />
<line x1="320.00" y1="524.66" x2="320.00" y2="528.66" stroke="#67ab45" stroke-width="0.9" />
<line x1="322.00" y1="530.45" x2="322.00" y2="534.45" stroke="#67ab45" stroke-width="0.9" />
<line x1="324.00" y1="533.42" x2="324.00" y2="537.42" stroke="#67ab45" stroke-width="0.9" />
<line x1="326.00" y1="534.67" x2="326.00" y2="538.67" stroke="#67ab45" stroke-width="0.9" />
<line x1="328.00" y1="534.20" x2="328.00" y2="538.20" stroke="#67ab45" stroke-width="0.9" />
<line x1="330.00" y1="535.82" x2="330.00" y2="539.82" stroke="#67ab45" stroke-width="0.9" />
<line x1="332.00" y1="537.43" x2="332.00" y2="541.43" stroke="#67ab45" stroke-width="0.9" />
<line x1="334.00" y1="541.29" x2="334.00" y2="545.29" stroke="#67ab45" stroke-width="0.9" />
<line x1="337.00" y1="542.09" x2="337.00" y2="546.09" stroke="#67ab45" stroke-width="0.9" />
<line x1="340.00" y1="542.40" x2="340.00" y2="546.40" stroke="#67ab45" stroke-width="0.9" />
<line x1="350.00" y1="545.70" x2="350.00" y2="549.70" stroke="#67ab45" stroke-width="0.9" />
<line x1="356.00" y1="545.70" x2="356.00" y2="549.70" stroke="#67ab45" stroke-width="0.9" />
<line x1="358.00" y1="545.70" x2="358.00" y2="549.70" stroke="#67ab45" stroke-width="0.9" />
<line x1="366.00" y1="545.70" x2="366.00" y2="549.70" stroke="#67ab45" stroke-width="0.9" />
<line x1="376.00" y1="545.70" x2="376.00" y2="549.70" stroke="#67ab45" stroke-width="0.9" />
<text x="348.60" y="525.00" font-size="8.8" fill="#3a4a7c" stroke="#3a4a7c" stroke-width="0.1" textLength="73.50" lengthAdjust="spacingAndGlyphs" >HR 1.96 (1.53–2.51)</text>
<text x="426.5" y="525" font-size="8.6" fill="#3a4a7c" stroke="#3a4a7c" stroke-width="0.1" textLength="49" lengthAdjust="spacingAndGlyphs"><tspan font-style="italic">P</tspan> = 1.0 × 10<tspan font-size="5.5" dy="-3.5">−7</tspan></text>
<text x="348.60" y="541.10" font-size="8.8" fill="#86ad70" stroke="#86ad70" stroke-width="0.1" textLength="73.50" lengthAdjust="spacingAndGlyphs" >HR 3.55 (2.73–4.62)</text>
<text x="426.5" y="541.1" font-size="8.6" fill="#86ad70" stroke="#86ad70" stroke-width="0.1" textLength="54.5" lengthAdjust="spacingAndGlyphs"><tspan font-style="italic">P</tspan> &lt; 2.0 × 10<tspan font-size="5.5" dy="-3.5">−16</tspan></text>
<text x="348.60" y="566.20" font-size="8.8" fill="#9e2a50" stroke="#9e2a50" stroke-width="0.1" textLength="77.90" lengthAdjust="spacingAndGlyphs" >HR 5.67 (3.15–10.21)</text>
<text x="430.8" y="566.2" font-size="8.6" fill="#9e2a50" stroke="#9e2a50" stroke-width="0.1" textLength="50.4" lengthAdjust="spacingAndGlyphs"><tspan font-style="italic">P</tspan> = 7.0 × 10<tspan font-size="5.5" dy="-3.5">−9</tspan></text>
<line x1="278.75" y1="607.50" x2="293.00" y2="607.50" stroke="#4a2a6c" stroke-width="2" />
<text x="308.75" y="610.60" font-size="8.5" fill="#231f20" stroke="#231f20" stroke-width="0.1" text-anchor="middle" >481</text>
<text x="325.18" y="610.60" font-size="8.5" fill="#231f20" stroke="#231f20" stroke-width="0.1" text-anchor="middle" >222</text>
<text x="341.61" y="610.60" font-size="8.5" fill="#231f20" stroke="#231f20" stroke-width="0.1" text-anchor="middle" >138</text>
<text x="358.04" y="610.60" font-size="8.5" fill="#231f20" stroke="#231f20" stroke-width="0.1" text-anchor="middle" >94</text>
<text x="374.47" y="610.60" font-size="8.5" fill="#231f20" stroke="#231f20" stroke-width="0.1" text-anchor="middle" >39</text>
<text x="390.90" y="610.60" font-size="8.5" fill="#231f20" stroke="#231f20" stroke-width="0.1" text-anchor="middle" >17</text>
<text x="407.33" y="610.60" font-size="8.5" fill="#231f20" stroke="#231f20" stroke-width="0.1" text-anchor="middle" >14</text>
<text x="423.76" y="610.60" font-size="8.5" fill="#231f20" stroke="#231f20" stroke-width="0.1" text-anchor="middle" >13</text>
<text x="440.19" y="610.60" font-size="8.5" fill="#231f20" stroke="#231f20" stroke-width="0.1" text-anchor="middle" >10</text>
<text x="456.62" y="610.60" font-size="8.5" fill="#231f20" stroke="#231f20" stroke-width="0.1" text-anchor="middle" >3</text>
<text x="473.05" y="610.60" font-size="8.5" fill="#231f20" stroke="#231f20" stroke-width="0.1" text-anchor="middle" >1</text>
<line x1="278.75" y1="617.50" x2="293.00" y2="617.50" stroke="#2c5190" stroke-width="2" />
<text x="308.75" y="620.60" font-size="8.5" fill="#231f20" stroke="#231f20" stroke-width="0.1" text-anchor="middle" >157</text>
<text x="325.18" y="620.60" font-size="8.5" fill="#231f20" stroke="#231f20" stroke-width="0.1" text-anchor="middle" >53</text>
<text x="341.61" y="620.60" font-size="8.5" fill="#231f20" stroke="#231f20" stroke-width="0.1" text-anchor="middle" >34</text>
<text x="358.04" y="620.60" font-size="8.5" fill="#231f20" stroke="#231f20" stroke-width="0.1" text-anchor="middle" >20</text>
<text x="374.47" y="620.60" font-size="8.5" fill="#231f20" stroke="#231f20" stroke-width="0.1" text-anchor="middle" >9</text>
<text x="390.90" y="620.60" font-size="8.5" fill="#231f20" stroke="#231f20" stroke-width="0.1" text-anchor="middle" >4</text>
<text x="407.33" y="620.60" font-size="8.5" fill="#231f20" stroke="#231f20" stroke-width="0.1" text-anchor="middle" >4</text>
<text x="423.76" y="620.60" font-size="8.5" fill="#231f20" stroke="#231f20" stroke-width="0.1" text-anchor="middle" >2</text>
<text x="440.19" y="620.60" font-size="8.5" fill="#231f20" stroke="#231f20" stroke-width="0.1" text-anchor="middle" >2</text>
<text x="456.62" y="620.60" font-size="8.5" fill="#231f20" stroke="#231f20" stroke-width="0.1" text-anchor="middle" >2</text>
<line x1="278.75" y1="628.20" x2="293.00" y2="628.20" stroke="#67ab45" stroke-width="2" />
<text x="308.75" y="631.30" font-size="8.5" fill="#231f20" stroke="#231f20" stroke-width="0.1" text-anchor="middle" >102</text>
<text x="325.18" y="631.30" font-size="8.5" fill="#231f20" stroke="#231f20" stroke-width="0.1" text-anchor="middle" >13</text>
<text x="341.61" y="631.30" font-size="8.5" fill="#231f20" stroke="#231f20" stroke-width="0.1" text-anchor="middle" >7</text>
<text x="358.04" y="631.30" font-size="8.5" fill="#231f20" stroke="#231f20" stroke-width="0.1" text-anchor="middle" >3</text>
<text x="374.47" y="631.30" font-size="8.5" fill="#231f20" stroke="#231f20" stroke-width="0.1" text-anchor="middle" >1</text>
<line x1="278.75" y1="638.00" x2="293.00" y2="638.00" stroke="#a5163d" stroke-width="2" />
<text x="308.75" y="641.10" font-size="8.5" fill="#231f20" stroke="#231f20" stroke-width="0.1" text-anchor="middle" >12</text>
<text x="325.18" y="641.10" font-size="8.5" fill="#231f20" stroke="#231f20" stroke-width="0.1" text-anchor="middle" >1</text>
<rect x="0" y="0" width="520" height="650" fill="none" stroke="#000" stroke-width="3"/>
</svg>
</body></html>
